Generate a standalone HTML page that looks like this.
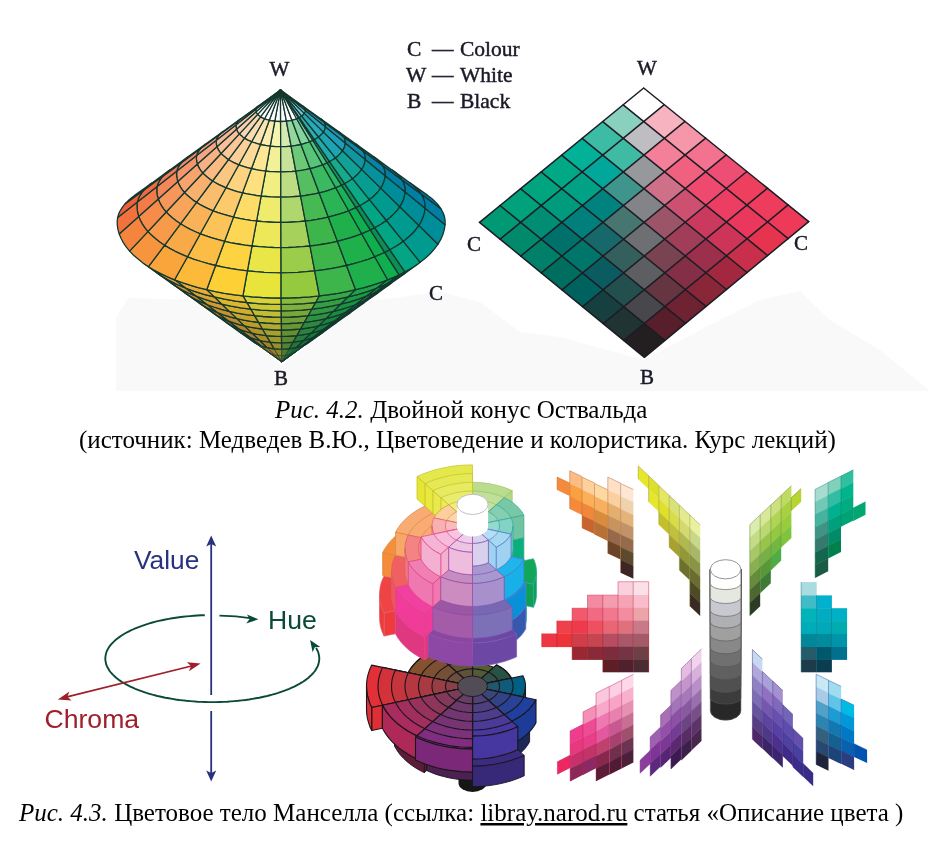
<!DOCTYPE html>
<html><head><meta charset="utf-8"><title>Цветовые системы</title>
<style>html,body{margin:0;padding:0;background:#fff}svg{display:block}</style></head>
<body>
<svg width="937" height="841" viewBox="0 0 937 841">
<rect width="937" height="841" fill="#ffffff"/>
<polygon points="116,391 116,318 128,298 200,300 240,330 282,366 320,335 360,302 440,292 480,302 520,332 560,337 644,360 700,330 760,300 800,291 830,320 880,350 930,391" fill="#f9f9f9"/>
<g id="cone" stroke="#14382e" stroke-width="1.3" stroke-linejoin="round">
<polygon points="281.7,355.6 280.4,355.6 279.2,355.5 277.9,355.4 281.8,362 281.8,362 281.8,362 281.8,362" fill="#897e24" stroke-width="0.6"/>
<polygon points="281.7,349.2 279.1,349.2 276.5,349 274,348.8 277.9,355.4 279.2,355.5 280.4,355.6 281.7,355.6" fill="#918626" stroke-width="0.6"/>
<polygon points="281.6,342.8 277.7,342.7 273.9,342.5 270.1,342.2 274,348.8 276.5,349 279.1,349.2 281.7,349.2" fill="#998f28"/>
<polygon points="281.5,336.4 276.4,336.3 271.3,336 266.2,335.6 270.1,342.2 273.9,342.5 277.7,342.7 281.6,342.8" fill="#a1972a"/>
<polygon points="281.5,330 275,329.9 268.6,329.5 262.3,329 266.2,335.6 271.3,336 276.4,336.3 281.5,336.4" fill="#a9a02c"/>
<polygon points="281.4,323.6 273.7,323.5 266,323 258.4,322.3 262.3,329 268.6,329.5 275,329.9 281.5,330" fill="#b2a92e"/>
<polygon points="281.3,317.2 272.3,317 263.4,316.5 254.5,315.7 258.4,322.3 266,323 273.7,323.5 281.4,323.6" fill="#bab230"/>
<polygon points="281.3,310.8 271,310.6 260.8,310.1 250.7,309.1 254.5,315.7 263.4,316.5 272.3,317 281.3,317.2" fill="#c3bc32"/>
<polygon points="281.2,304.4 269.6,304.2 258.1,303.6 246.8,302.5 250.7,309.1 260.8,310.1 271,310.6 281.3,310.8" fill="#cdc635"/>
<polygon points="281.1,298 268.3,297.8 255.5,297.1 242.9,295.9 246.8,302.5 258.1,303.6 269.6,304.2 281.2,304.4" fill="#d8d138"/>
<polygon points="277.9,355.4 276.7,355.2 275.5,355 274.3,354.8 281.8,362 281.8,362 281.8,362 281.8,362" fill="#927521" stroke-width="0.6"/>
<polygon points="274,348.8 271.5,348.5 269.1,348 266.8,347.5 274.3,354.8 275.5,355 276.7,355.2 277.9,355.4" fill="#9b7c22" stroke-width="0.6"/>
<polygon points="270.1,342.2 266.4,341.7 262.8,341.1 259.3,340.3 266.8,347.5 269.1,348 271.5,348.5 274,348.8" fill="#a48424"/>
<polygon points="266.2,335.6 261.3,334.9 256.4,334.1 251.8,333.1 259.3,340.3 262.8,341.1 266.4,341.7 270.1,342.2" fill="#ad8c26"/>
<polygon points="262.3,329 256.1,328.1 250.1,327.1 244.2,325.9 251.8,333.1 256.4,334.1 261.3,334.9 266.2,335.6" fill="#b69327"/>
<polygon points="258.4,322.3 251,321.4 243.8,320.1 236.7,318.6 244.2,325.9 250.1,327.1 256.1,328.1 262.3,329" fill="#bf9b29"/>
<polygon points="254.5,315.7 245.9,314.6 237.4,313.2 229.2,311.4 236.7,318.6 243.8,320.1 251,321.4 258.4,322.3" fill="#c9a42b"/>
<polygon points="250.7,309.1 240.7,307.8 231.1,306.2 221.7,304.2 229.2,311.4 237.4,313.2 245.9,314.6 254.5,315.7" fill="#d3ac2d"/>
<polygon points="246.8,302.5 235.6,301.1 224.7,299.2 214.2,296.9 221.7,304.2 231.1,306.2 240.7,307.8 250.7,309.1" fill="#ddb52f"/>
<polygon points="242.9,295.9 230.5,294.3 218.4,292.2 206.7,289.7 214.2,296.9 224.7,299.2 235.6,301.1 246.8,302.5" fill="#eabf31"/>
<polygon points="274.3,354.8 273.2,354.5 272.1,354.1 271.1,353.8 281.8,362 281.8,362 281.8,362 281.8,362" fill="#916a23" stroke-width="0.6"/>
<polygon points="266.8,347.5 264.5,347 262.4,346.3 260.4,345.6 271.1,353.8 272.1,354.1 273.2,354.5 274.3,354.8" fill="#9a7125" stroke-width="0.6"/>
<polygon points="259.3,340.3 255.9,339.4 252.7,338.4 249.7,337.3 260.4,345.6 262.4,346.3 264.5,347 266.8,347.5" fill="#a37727"/>
<polygon points="251.8,333.1 247.3,331.9 243,330.6 238.9,329.1 249.7,337.3 252.7,338.4 255.9,339.4 259.3,340.3" fill="#ac7e29"/>
<polygon points="244.2,325.9 238.6,324.4 233.3,322.7 228.2,320.9 238.9,329.1 243,330.6 247.3,331.9 251.8,333.1" fill="#b5852b"/>
<polygon points="236.7,318.6 230,316.9 223.6,314.9 217.5,312.7 228.2,320.9 233.3,322.7 238.6,324.4 244.2,325.9" fill="#bf8c2d"/>
<polygon points="229.2,311.4 221.4,309.4 213.9,307 206.8,304.5 217.5,312.7 223.6,314.9 230,316.9 236.7,318.6" fill="#c8932f"/>
<polygon points="221.7,304.2 212.7,301.8 204.2,299.2 196.1,296.2 206.8,304.5 213.9,307 221.4,309.4 229.2,311.4" fill="#d29a31"/>
<polygon points="214.2,296.9 204.1,294.3 194.5,291.3 185.4,288 196.1,296.2 204.2,299.2 212.7,301.8 221.7,304.2" fill="#dda233"/>
<polygon points="206.7,289.7 195.5,286.8 184.8,283.5 174.6,279.8 185.4,288 194.5,291.3 204.1,294.3 214.2,296.9" fill="#e9ab36"/>
<polygon points="271.1,353.8 270.1,353.4 269.3,352.9 268.5,352.5 281.8,362 281.8,362 281.8,362 281.8,362" fill="#906124" stroke-width="0.6"/>
<polygon points="260.4,345.6 258.5,344.7 256.7,343.9 255.1,342.9 268.5,352.5 269.3,352.9 270.1,353.4 271.1,353.8" fill="#996726" stroke-width="0.6"/>
<polygon points="249.7,337.3 246.8,336.1 244.2,334.8 241.8,333.4 255.1,342.9 256.7,343.9 258.5,344.7 260.4,345.6" fill="#a16d28"/>
<polygon points="238.9,329.1 235.2,327.5 231.7,325.7 228.5,323.9 241.8,333.4 244.2,334.8 246.8,336.1 249.7,337.3" fill="#aa722a"/>
<polygon points="228.2,320.9 223.5,318.9 219.1,316.7 215.1,314.3 228.5,323.9 231.7,325.7 235.2,327.5 238.9,329.1" fill="#b3782c"/>
<polygon points="217.5,312.7 211.8,310.2 206.6,307.6 201.8,304.8 215.1,314.3 219.1,316.7 223.5,318.9 228.2,320.9" fill="#bc7e2e"/>
<polygon points="206.8,304.5 200.2,301.6 194.1,298.6 188.5,295.3 201.8,304.8 206.6,307.6 211.8,310.2 217.5,312.7" fill="#c68430"/>
<polygon points="196.1,296.2 188.5,293 181.5,289.5 175.1,285.7 188.5,295.3 194.1,298.6 200.2,301.6 206.8,304.5" fill="#d08a32"/>
<polygon points="185.4,288 176.8,284.4 169,280.4 161.8,276.2 175.1,285.7 181.5,289.5 188.5,293 196.1,296.2" fill="#da9135"/>
<polygon points="174.6,279.8 165.2,275.7 156.4,271.4 148.5,266.7 161.8,276.2 169,280.4 176.8,284.4 185.4,288" fill="#e69938"/>
<polygon points="268.5,352.5 268.3,352.4 268.1,352.2 268,352.1 281.8,362 281.8,362 281.8,362 281.8,362" fill="#8f5a25" stroke-width="0.6"/>
<polygon points="255.1,342.9 254.8,342.7 254.5,342.5 254.1,342.3 268,352.1 268.1,352.2 268.3,352.4 268.5,352.5" fill="#985f27" stroke-width="0.6"/>
<polygon points="241.8,333.4 241.3,333.1 240.8,332.7 240.3,332.4 254.1,342.3 254.5,342.5 254.8,342.7 255.1,342.9" fill="#a06429"/>
<polygon points="228.5,323.9 227.8,323.4 227.1,323 226.4,322.5 240.3,332.4 240.8,332.7 241.3,333.1 241.8,333.4" fill="#a9692b"/>
<polygon points="215.1,314.3 214.3,313.8 213.4,313.2 212.6,312.6 226.4,322.5 227.1,323 227.8,323.4 228.5,323.9" fill="#b26e2d"/>
<polygon points="201.8,304.8 200.8,304.1 199.8,303.4 198.8,302.8 212.6,312.6 213.4,313.2 214.3,313.8 215.1,314.3" fill="#bb732f"/>
<polygon points="188.5,295.3 187.3,294.5 186.1,293.7 184.9,292.9 198.8,302.8 199.8,303.4 200.8,304.1 201.8,304.8" fill="#c47832"/>
<polygon points="175.1,285.7 173.8,284.8 172.4,283.9 171.1,283 184.9,292.9 186.1,293.7 187.3,294.5 188.5,295.3" fill="#ce7e34"/>
<polygon points="161.8,276.2 160.2,275.2 158.7,274.2 157.3,273.1 171.1,283 172.4,283.9 173.8,284.8 175.1,285.7" fill="#d88437"/>
<polygon points="148.5,266.7 146.7,265.5 145.1,264.4 143.4,263.3 157.3,273.1 158.7,274.2 160.2,275.2 161.8,276.2" fill="#e48a39"/>
<polygon points="285.6,355.4 284.3,355.5 283,355.6 281.7,355.6 281.8,362 281.8,362 281.8,362 281.8,362" fill="#49722e" stroke-width="0.6"/>
<polygon points="289.3,348.8 286.8,349 284.2,349.2 281.7,349.2 281.7,355.6 283,355.6 284.3,355.5 285.6,355.4" fill="#4f792f" stroke-width="0.6"/>
<polygon points="293.1,342.2 289.3,342.5 285.5,342.7 281.6,342.8 281.7,349.2 284.2,349.2 286.8,349 289.3,348.8" fill="#568130"/>
<polygon points="296.9,335.6 291.8,336 286.7,336.3 281.5,336.4 281.6,342.8 285.5,342.7 289.3,342.5 293.1,342.2" fill="#5c8832"/>
<polygon points="300.6,329 294.3,329.5 287.9,329.9 281.5,330 281.5,336.4 286.7,336.3 291.8,336 296.9,335.6" fill="#639033"/>
<polygon points="304.4,322.3 296.8,323 289.1,323.5 281.4,323.6 281.5,330 287.9,329.9 294.3,329.5 300.6,329" fill="#6a9734"/>
<polygon points="308.1,315.7 299.3,316.5 290.4,317 281.3,317.2 281.4,323.6 289.1,323.5 296.8,323 304.4,322.3" fill="#719f36"/>
<polygon points="311.9,309.1 301.8,310.1 291.6,310.6 281.3,310.8 281.3,317.2 290.4,317 299.3,316.5 308.1,315.7" fill="#78a738"/>
<polygon points="315.7,302.5 304.3,303.6 292.8,304.2 281.2,304.4 281.3,310.8 291.6,310.6 301.8,310.1 311.9,309.1" fill="#7fb039"/>
<polygon points="319.4,295.9 306.8,297.1 294,297.8 281.1,298 281.2,304.4 292.8,304.2 304.3,303.6 315.7,302.5" fill="#88ba3b"/>
<polygon points="289.2,354.8 288,355 286.8,355.2 285.6,355.4 281.8,362 281.8,362 281.8,362 281.8,362" fill="#216933" stroke-width="0.6"/>
<polygon points="296.6,347.5 294.2,348 291.8,348.5 289.3,348.8 285.6,355.4 286.8,355.2 288,355 289.2,354.8" fill="#236f35" stroke-width="0.6"/>
<polygon points="303.9,340.3 300.4,341.1 296.8,341.7 293.1,342.2 289.3,348.8 291.8,348.5 294.2,348 296.6,347.5" fill="#267537"/>
<polygon points="311.3,333.1 306.6,334.1 301.8,334.9 296.9,335.6 293.1,342.2 296.8,341.7 300.4,341.1 303.9,340.3" fill="#287c39"/>
<polygon points="318.7,325.9 312.9,327.1 306.8,328.1 300.6,329 296.9,335.6 301.8,334.9 306.6,334.1 311.3,333.1" fill="#2a823b"/>
<polygon points="326.1,318.6 319.1,320.1 311.8,321.4 304.4,322.3 300.6,329 306.8,328.1 312.9,327.1 318.7,325.9" fill="#2d893d"/>
<polygon points="333.5,311.4 325.3,313.2 316.8,314.6 308.1,315.7 304.4,322.3 311.8,321.4 319.1,320.1 326.1,318.6" fill="#2f903f"/>
<polygon points="340.8,304.2 331.5,306.2 321.8,307.8 311.9,309.1 308.1,315.7 316.8,314.6 325.3,313.2 333.5,311.4" fill="#329741"/>
<polygon points="348.2,296.9 337.7,299.2 326.8,301.1 315.7,302.5 311.9,309.1 321.8,307.8 331.5,306.2 340.8,304.2" fill="#359e43"/>
<polygon points="355.6,289.7 343.9,292.2 331.8,294.3 319.4,295.9 315.7,302.5 326.8,301.1 337.7,299.2 348.2,296.9" fill="#38a746"/>
<polygon points="292.4,353.8 291.4,354.1 290.3,354.5 289.2,354.8 281.8,362 281.8,362 281.8,362 281.8,362" fill="#136634" stroke-width="0.6"/>
<polygon points="303,345.6 300.9,346.3 298.8,347 296.6,347.5 289.2,354.8 290.3,354.5 291.4,354.1 292.4,353.8" fill="#146c36" stroke-width="0.6"/>
<polygon points="313.6,337.3 310.5,338.4 307.3,339.4 303.9,340.3 296.6,347.5 298.8,347 300.9,346.3 303,345.6" fill="#157338"/>
<polygon points="324.1,329.1 320.1,330.6 315.8,331.9 311.3,333.1 303.9,340.3 307.3,339.4 310.5,338.4 313.6,337.3" fill="#16793a"/>
<polygon points="334.7,320.9 329.7,322.7 324.3,324.4 318.7,325.9 311.3,333.1 315.8,331.9 320.1,330.6 324.1,329.1" fill="#177f3c"/>
<polygon points="345.3,312.7 339.2,314.9 332.8,316.9 326.1,318.6 318.7,325.9 324.3,324.4 329.7,322.7 334.7,320.9" fill="#18863e"/>
<polygon points="355.9,304.5 348.8,307 341.3,309.4 333.5,311.4 326.1,318.6 332.8,316.9 339.2,314.9 345.3,312.7" fill="#198c40"/>
<polygon points="366.5,296.2 358.4,299.2 349.8,301.8 340.8,304.2 333.5,311.4 341.3,309.4 348.8,307 355.9,304.5" fill="#1a9342"/>
<polygon points="377.1,288 368,291.3 358.3,294.3 348.2,296.9 340.8,304.2 349.8,301.8 358.4,299.2 366.5,296.2" fill="#1c9a45"/>
<polygon points="387.7,279.8 377.5,283.5 366.8,286.8 355.6,289.7 348.2,296.9 358.3,294.3 368,291.3 377.1,288" fill="#1da348"/>
<polygon points="293.5,353.3 293.2,353.5 292.8,353.6 292.4,353.8 281.8,362 281.8,362 281.8,362 281.8,362" fill="#0c6535" stroke-width="0.6"/>
<polygon points="305.3,344.6 304.5,344.9 303.8,345.2 303,345.6 292.4,353.8 292.8,353.6 293.2,353.5 293.5,353.3" fill="#0c6b37" stroke-width="0.6"/>
<polygon points="317,335.8 315.9,336.4 314.7,336.9 313.6,337.3 303,345.6 303.8,345.2 304.5,344.9 305.3,344.6" fill="#0d7139"/>
<polygon points="328.7,327.1 327.2,327.8 325.7,328.5 324.1,329.1 313.6,337.3 314.7,336.9 315.9,336.4 317,335.8" fill="#0d783b"/>
<polygon points="340.5,318.4 338.6,319.3 336.7,320.1 334.7,320.9 324.1,329.1 325.7,328.5 327.2,327.8 328.7,327.1" fill="#0d7e3d"/>
<polygon points="352.2,309.7 350,310.7 347.7,311.7 345.3,312.7 334.7,320.9 336.7,320.1 338.6,319.3 340.5,318.4" fill="#0d843f"/>
<polygon points="363.9,301 361.3,302.2 358.7,303.3 355.9,304.5 345.3,312.7 347.7,311.7 350,310.7 352.2,309.7" fill="#0e8b42"/>
<polygon points="375.7,292.2 372.7,293.6 369.6,294.9 366.5,296.2 355.9,304.5 358.7,303.3 361.3,302.2 363.9,301" fill="#0e9144"/>
<polygon points="387.4,283.5 384.1,285.1 380.6,286.6 377.1,288 366.5,296.2 369.6,294.9 372.7,293.6 375.7,292.2" fill="#0e9947"/>
<polygon points="399.1,274.8 395.4,276.5 391.6,278.2 387.7,279.8 377.1,288 380.6,286.6 384.1,285.1 387.4,283.5" fill="#0ea149"/>
<polygon points="294.1,353 293.9,353.1 293.7,353.2 293.5,353.3 281.8,362 281.8,362 281.8,362 281.8,362" fill="#0a5738" stroke-width="0.6"/>
<polygon points="306.4,344 306,344.2 305.7,344.4 305.3,344.6 293.5,353.3 293.7,353.2 293.9,353.1 294.1,353" fill="#0a5c3a" stroke-width="0.6"/>
<polygon points="318.7,335 318.2,335.3 317.6,335.5 317,335.8 305.3,344.6 305.7,344.4 306,344.2 306.4,344" fill="#0b613d"/>
<polygon points="331,325.9 330.3,326.3 329.5,326.7 328.7,327.1 317,335.8 317.6,335.5 318.2,335.3 318.7,335" fill="#0b653f"/>
<polygon points="343.4,316.9 342.4,317.4 341.4,317.9 340.5,318.4 328.7,327.1 329.5,326.7 330.3,326.3 331,325.9" fill="#0b6a42"/>
<polygon points="355.7,307.9 354.5,308.5 353.4,309.1 352.2,309.7 340.5,318.4 341.4,317.9 342.4,317.4 343.4,316.9" fill="#0b6f44"/>
<polygon points="368,298.9 366.7,299.6 365.3,300.3 363.9,301 352.2,309.7 353.4,309.1 354.5,308.5 355.7,307.9" fill="#0b7447"/>
<polygon points="380.3,289.9 378.8,290.7 377.2,291.5 375.7,292.2 363.9,301 365.3,300.3 366.7,299.6 368,298.9" fill="#0b794a"/>
<polygon points="392.6,280.9 390.9,281.8 389.2,282.6 387.4,283.5 375.7,292.2 377.2,291.5 378.8,290.7 380.3,289.9" fill="#0b7f4c"/>
<polygon points="404.9,271.9 403,272.9 401.1,273.8 399.1,274.8 387.4,283.5 389.2,282.6 390.9,281.8 392.6,280.9" fill="#0b8550"/>
<polygon points="295.5,352.1 295.1,352.4 294.6,352.7 294.1,353 281.8,362 281.8,362 281.8,362 281.8,362" fill="#07614d" stroke-width="0.6"/>
<polygon points="309.2,342.3 308.3,342.8 307.4,343.4 306.4,344 294.1,353 294.6,352.7 295.1,352.4 295.5,352.1" fill="#076752" stroke-width="0.6"/>
<polygon points="322.9,332.4 321.6,333.3 320.2,334.1 318.7,335 306.4,344 307.4,343.4 308.3,342.8 309.2,342.3" fill="#076d56"/>
<polygon points="336.6,322.5 334.9,323.7 333,324.8 331,325.9 318.7,335 320.2,334.1 321.6,333.3 322.9,332.4" fill="#06725b"/>
<polygon points="350.3,312.6 348.2,314.1 345.8,315.5 343.4,316.9 331,325.9 333,324.8 334.9,323.7 336.6,322.5" fill="#06785f"/>
<polygon points="364,302.8 361.4,304.5 358.6,306.3 355.7,307.9 343.4,316.9 345.8,315.5 348.2,314.1 350.3,312.6" fill="#067e64"/>
<polygon points="377.8,292.9 374.7,295 371.4,297 368,298.9 355.7,307.9 358.6,306.3 361.4,304.5 364,302.8" fill="#068469"/>
<polygon points="391.5,283 388,285.4 384.3,287.7 380.3,289.9 368,298.9 371.4,297 374.7,295 377.8,292.9" fill="#058a6e"/>
<polygon points="405.2,273.1 401.3,275.8 397.1,278.4 392.6,280.9 380.3,289.9 384.3,287.7 388,285.4 391.5,283" fill="#059174"/>
<polygon points="418.9,263.3 414.5,266.2 409.9,269.1 404.9,271.9 392.6,280.9 397.1,278.4 401.3,275.8 405.2,273.1" fill="#05997a"/>
<polygon points="280.6,121.5 279.1,121.5 277.7,121.4 276.2,121.3 274.8,121.2 280.5,90 280.5,90 280.5,90 280.5,90 280.5,90" fill="#ffffff"/>
<polygon points="280.7,146.7 278,146.7 275.4,146.6 272.8,146.4 270.2,146.2 274.8,121.2 276.2,121.3 277.7,121.4 279.1,121.5 280.6,121.5" fill="#f6f4b1"/>
<polygon points="280.8,171.9 277,171.9 273.2,171.7 269.4,171.5 265.7,171.1 270.2,146.2 272.8,146.4 275.4,146.6 278,146.7 280.7,146.7" fill="#f3f198"/>
<polygon points="280.8,197.2 275.9,197.1 270.9,196.9 266,196.5 261.1,196.1 265.7,171.1 269.4,171.5 273.2,171.7 277,171.9 280.8,171.9" fill="#f1ee82"/>
<polygon points="280.9,222.4 274.8,222.3 268.6,222 262.6,221.6 256.6,221 261.1,196.1 266,196.5 270.9,196.9 275.9,197.1 280.8,197.2" fill="#eeeb6d"/>
<polygon points="281,247.6 273.7,247.5 266.4,247.2 259.2,246.7 252,246 256.6,221 262.6,221.6 268.6,222 274.8,222.3 280.9,222.4" fill="#ece859"/>
<polygon points="281.1,272.8 272.6,272.7 264.1,272.3 255.7,271.7 247.4,270.9 252,246 259.2,246.7 266.4,247.2 273.7,247.5 281,247.6" fill="#eae648"/>
<polygon points="281.1,298 271.5,297.9 261.9,297.5 252.3,296.8 242.9,295.9 247.4,270.9 255.7,271.7 264.1,272.3 272.6,272.7 281.1,272.8" fill="#e9e43c"/>
<polygon points="274.8,121.2 273.4,121 272,120.8 270.6,120.6 269.3,120.3 280.5,90 280.5,90 280.5,90 280.5,90 280.5,90" fill="#ffffff"/>
<polygon points="270.2,146.2 267.7,145.8 265.2,145.4 262.8,145 260.4,144.5 269.3,120.3 270.6,120.6 272,120.8 273.4,121 274.8,121.2" fill="#feecae"/>
<polygon points="265.7,171.1 262,170.7 258.4,170.1 254.9,169.4 251.4,168.7 260.4,144.5 262.8,145 265.2,145.4 267.7,145.8 270.2,146.2" fill="#fee694"/>
<polygon points="261.1,196.1 256.3,195.5 251.6,194.7 247,193.9 242.5,192.9 251.4,168.7 254.9,169.4 258.4,170.1 262,170.7 265.7,171.1" fill="#fee17e"/>
<polygon points="256.6,221 250.6,220.3 244.8,219.4 239.1,218.3 233.5,217.1 242.5,192.9 247,193.9 251.6,194.7 256.3,195.5 261.1,196.1" fill="#fedc68"/>
<polygon points="252,246 244.9,245.1 238,244 231.2,242.8 224.6,241.3 233.5,217.1 239.1,218.3 244.8,219.4 250.6,220.3 256.6,221" fill="#fdd753"/>
<polygon points="247.4,270.9 239.2,269.9 231.2,268.7 223.3,267.2 215.6,265.5 224.6,241.3 231.2,242.8 238,244 244.9,245.1 252,246" fill="#fdd341"/>
<polygon points="242.9,295.9 233.5,294.7 224.4,293.3 215.4,291.6 206.7,289.7 215.6,265.5 223.3,267.2 231.2,268.7 239.2,269.9 247.4,270.9" fill="#fdd035"/>
<polygon points="269.3,120.3 268,119.9 266.8,119.6 265.6,119.2 264.5,118.8 280.5,90 280.5,90 280.5,90 280.5,90 280.5,90" fill="#ffffff"/>
<polygon points="260.4,144.5 258.1,143.9 255.8,143.2 253.7,142.5 251.6,141.8 264.5,118.8 265.6,119.2 266.8,119.6 268,119.9 269.3,120.3" fill="#fee3b0"/>
<polygon points="251.4,168.7 248.1,167.8 244.9,166.9 241.8,165.9 238.8,164.8 251.6,141.8 253.7,142.5 255.8,143.2 258.1,143.9 260.4,144.5" fill="#fdda97"/>
<polygon points="242.5,192.9 238.1,191.8 233.9,190.6 229.8,189.2 226,187.8 238.8,164.8 241.8,165.9 244.9,166.9 248.1,167.8 251.4,168.7" fill="#fdd281"/>
<polygon points="233.5,217.1 228.1,215.7 222.9,214.2 217.9,212.6 213.1,210.8 226,187.8 229.8,189.2 233.9,190.6 238.1,191.8 242.5,192.9" fill="#fdca6b"/>
<polygon points="224.6,241.3 218.2,239.7 212,237.9 206,235.9 200.3,233.8 213.1,210.8 217.9,212.6 222.9,214.2 228.1,215.7 233.5,217.1" fill="#fcc458"/>
<polygon points="215.6,265.5 208.2,263.6 201,261.5 194.1,259.3 187.5,256.8 200.3,233.8 206,235.9 212,237.9 218.2,239.7 224.6,241.3" fill="#fcbd46"/>
<polygon points="206.7,289.7 198.2,287.6 190,285.2 182.2,282.6 174.6,279.8 187.5,256.8 194.1,259.3 201,261.5 208.2,263.6 215.6,265.5" fill="#fcb93a"/>
<polygon points="264.5,118.8 263.4,118.3 262.4,117.8 261.4,117.3 260.5,116.8 280.5,90 280.5,90 280.5,90 280.5,90 280.5,90" fill="#ffffff"/>
<polygon points="251.6,141.8 249.7,140.9 247.8,140.1 246.1,139.1 244.5,138.2 260.5,116.8 261.4,117.3 262.4,117.8 263.4,118.3 264.5,118.8" fill="#fddbb1"/>
<polygon points="238.8,164.8 236,163.6 233.3,162.3 230.8,161 228.5,159.6 244.5,138.2 246.1,139.1 247.8,140.1 249.7,140.9 251.6,141.8" fill="#fccf98"/>
<polygon points="226,187.8 222.3,186.2 218.8,184.6 215.5,182.8 212.5,181 228.5,159.6 230.8,161 233.3,162.3 236,163.6 238.8,164.8" fill="#fbc582"/>
<polygon points="213.1,210.8 208.6,208.9 204.3,206.8 200.2,204.7 196.5,202.4 212.5,181 215.5,182.8 218.8,184.6 222.3,186.2 226,187.8" fill="#fabc6d"/>
<polygon points="200.3,233.8 194.9,231.5 189.8,229.1 185,226.5 180.5,223.8 196.5,202.4 200.2,204.7 204.3,206.8 208.6,208.9 213.1,210.8" fill="#fab259"/>
<polygon points="187.5,256.8 181.2,254.1 175.2,251.3 169.7,248.4 164.5,245.3 180.5,223.8 185,226.5 189.8,229.1 194.9,231.5 200.3,233.8" fill="#f9aa48"/>
<polygon points="174.6,279.8 167.5,276.8 160.7,273.6 154.4,270.2 148.5,266.7 164.5,245.3 169.7,248.4 175.2,251.3 181.2,254.1 187.5,256.8" fill="#f9a53c"/>
<polygon points="260.5,116.8 259.7,116.2 258.9,115.6 258.2,115 257.6,114.4 280.5,90 280.5,90 280.5,90 280.5,90 280.5,90" fill="#ffffff"/>
<polygon points="244.5,138.2 243,137.2 241.7,136.1 240.4,135 239.4,133.9 257.6,114.4 258.2,115 258.9,115.6 259.7,116.2 260.5,116.8" fill="#fcd5b2"/>
<polygon points="228.5,159.6 226.3,158.1 224.4,156.6 222.6,155.1 221.1,153.5 239.4,133.9 240.4,135 241.7,136.1 243,137.2 244.5,138.2" fill="#fbc799"/>
<polygon points="212.5,181 209.7,179.1 207.1,177.1 204.8,175.1 202.8,173 221.1,153.5 222.6,155.1 224.4,156.6 226.3,158.1 228.5,159.6" fill="#fabb83"/>
<polygon points="196.5,202.4 193,200.1 189.9,197.6 187,195.1 184.5,192.5 202.8,173 204.8,175.1 207.1,177.1 209.7,179.1 212.5,181" fill="#f9b06e"/>
<polygon points="180.5,223.8 176.4,221 172.6,218.1 169.2,215.1 166.2,212 184.5,192.5 187,195.1 189.9,197.6 193,200.1 196.5,202.4" fill="#f8a55b"/>
<polygon points="164.5,245.3 159.7,242 155.3,238.6 151.4,235.1 147.9,231.6 166.2,212 169.2,215.1 172.6,218.1 176.4,221 180.5,223.8" fill="#f79b4a"/>
<polygon points="148.5,266.7 143,263 138.1,259.1 133.6,255.2 129.6,251.1 147.9,231.6 151.4,235.1 155.3,238.6 159.7,242 164.5,245.3" fill="#f7953e"/>
<polygon points="257.6,114.4 257.1,113.8 256.7,113.1 256.3,112.5 256.1,111.8 280.5,90 280.5,90 280.5,90 280.5,90 280.5,90" fill="#ffffff"/>
<polygon points="239.4,133.9 238.4,132.8 237.6,131.6 237,130.4 236.5,129.2 256.1,111.8 256.3,112.5 256.7,113.1 257.1,113.8 257.6,114.4" fill="#fbceb2"/>
<polygon points="221.1,153.5 219.7,151.8 218.6,150.1 217.7,148.4 216.9,146.7 236.5,129.2 237,130.4 237.6,131.6 238.4,132.8 239.4,133.9" fill="#fabe99"/>
<polygon points="202.8,173 201,170.8 199.5,168.6 198.3,166.4 197.4,164.1 216.9,146.7 217.7,148.4 218.6,150.1 219.7,151.8 221.1,153.5" fill="#f9b083"/>
<polygon points="184.5,192.5 182.3,189.8 180.5,187.1 179,184.4 177.8,181.6 197.4,164.1 198.3,166.4 199.5,168.6 201,170.8 202.8,173" fill="#f8a36e"/>
<polygon points="166.2,212 163.6,208.9 161.4,205.6 159.6,202.3 158.3,199 177.8,181.6 179,184.4 180.5,187.1 182.3,189.8 184.5,192.5" fill="#f6965b"/>
<polygon points="147.9,231.6 144.9,227.9 142.4,224.1 140.3,220.3 138.7,216.4 158.3,199 159.6,202.3 161.4,205.6 163.6,208.9 166.2,212" fill="#f68b4a"/>
<polygon points="129.6,251.1 126.2,246.9 123.3,242.6 121,238.3 119.2,233.9 138.7,216.4 140.3,220.3 142.4,224.1 144.9,227.9 147.9,231.6" fill="#f5843e"/>
<polygon points="256.1,111.8 255.9,111.1 255.8,110.5 255.8,109.8 255.8,109.3 280.5,90 280.5,90 280.5,90 280.5,90 280.5,90" fill="#ffffff"/>
<polygon points="236.5,129.2 236.2,128 236,126.8 236,125.7 236.1,124.7 255.8,109.3 255.8,109.8 255.8,110.5 255.9,111.1 256.1,111.8" fill="#fac6b1"/>
<polygon points="216.9,146.7 216.5,144.9 216.2,143.2 216.2,141.5 216.3,140.2 236.1,124.7 236,125.7 236,126.8 236.2,128 236.5,129.2" fill="#f9b498"/>
<polygon points="197.4,164.1 196.8,161.8 196.4,159.5 196.4,157.4 196.6,155.6 216.3,140.2 216.2,141.5 216.2,143.2 216.5,144.9 216.9,146.7" fill="#f7a482"/>
<polygon points="177.8,181.6 177.1,178.7 176.6,175.9 176.6,173.3 176.9,171 196.6,155.6 196.4,157.4 196.4,159.5 196.8,161.8 197.4,164.1" fill="#f6946d"/>
<polygon points="158.3,199 157.3,195.6 156.8,192.3 156.8,189.1 157.1,186.5 176.9,171 176.6,173.3 176.6,175.9 177.1,178.7 177.8,181.6" fill="#f58659"/>
<polygon points="138.7,216.4 137.6,212.5 137.1,208.6 137,205 137.4,201.9 157.1,186.5 156.8,189.1 156.8,192.3 157.3,195.6 158.3,199" fill="#f47a48"/>
<polygon points="119.2,233.9 117.9,229.4 117.3,225 117.2,220.8 117.7,217.4 137.4,201.9 137,205 137.1,208.6 137.6,212.5 138.7,216.4" fill="#f3713c"/>
<polygon points="255.8,109.3 256,108.8 256.2,108.3 256.6,107.7 257,107.2 280.5,90 280.5,90 280.5,90 280.5,90 280.5,90" fill="#ffffff"/>
<polygon points="236.1,124.7 236.4,123.8 236.8,122.9 237.4,121.9 238.1,121 257,107.2 256.6,107.7 256.2,108.3 256,108.8 255.8,109.3" fill="#f9bfb0"/>
<polygon points="216.3,140.2 216.8,138.8 217.4,137.5 218.2,136.1 219.3,134.8 238.1,121 237.4,121.9 236.8,122.9 236.4,123.8 236.1,124.7" fill="#f8aa97"/>
<polygon points="196.6,155.6 197.1,153.8 198,152.1 199.1,150.3 200.5,148.6 219.3,134.8 218.2,136.1 217.4,137.5 216.8,138.8 216.3,140.2" fill="#f69981"/>
<polygon points="176.9,171 177.5,168.8 178.6,166.7 179.9,164.5 181.7,162.4 200.5,148.6 199.1,150.3 198,152.1 197.1,153.8 196.6,155.6" fill="#f4876b"/>
<polygon points="157.1,186.5 157.9,183.9 159.1,181.3 160.8,178.7 162.8,176.1 181.7,162.4 179.9,164.5 178.6,166.7 177.5,168.8 176.9,171" fill="#f37758"/>
<polygon points="137.4,201.9 138.3,198.9 139.7,195.9 141.6,192.9 144,189.9 162.8,176.1 160.8,178.7 159.1,181.3 157.9,183.9 157.1,186.5" fill="#f26946"/>
<polygon points="117.7,217.4 118.7,213.9 120.3,210.5 122.5,207.1 125.2,203.7 144,189.9 141.6,192.9 139.7,195.9 138.3,198.9 137.4,201.9" fill="#f15f3a"/>
<polygon points="257,107.2 257.3,106.9 257.6,106.6 258,106.3 258.4,106 280.5,90 280.5,90 280.5,90 280.5,90 280.5,90" fill="#ffffff"/>
<polygon points="238.1,121 238.7,120.4 239.3,119.9 240,119.3 240.7,118.8 258.4,106 258,106.3 257.6,106.6 257.3,106.9 257,107.2" fill="#f9b9af"/>
<polygon points="219.3,134.8 220.1,134 221,133.1 222,132.3 223,131.5 240.7,118.8 240,119.3 239.3,119.9 238.7,120.4 238.1,121" fill="#f7a296"/>
<polygon points="200.5,148.6 201.5,147.5 202.7,146.4 203.9,145.4 205.3,144.3 223,131.5 222,132.3 221,133.1 220.1,134 219.3,134.8" fill="#f58e80"/>
<polygon points="181.7,162.4 182.9,161 184.4,159.7 185.9,158.4 187.6,157.1 205.3,144.3 203.9,145.4 202.7,146.4 201.5,147.5 200.5,148.6" fill="#f37b6a"/>
<polygon points="162.8,176.1 164.4,174.5 166.1,173 167.9,171.4 169.9,169.9 187.6,157.1 185.9,158.4 184.4,159.7 182.9,161 181.7,162.4" fill="#f16956"/>
<polygon points="144,189.9 145.8,188.1 147.8,186.2 149.9,184.4 152.3,182.7 169.9,169.9 167.9,171.4 166.1,173 164.4,174.5 162.8,176.1" fill="#f05a44"/>
<polygon points="125.2,203.7 127.2,201.6 129.4,199.5 131.9,197.5 134.6,195.4 152.3,182.7 149.9,184.4 147.8,186.2 145.8,188.1 144,189.9" fill="#ef4f38"/>
<polygon points="280.6,121.5 282.1,121.5 283.5,121.4 285,121.3 286.4,121.2 280.5,90 280.5,90 280.5,90 280.5,90 280.5,90" fill="#ffffff"/>
<polygon points="280.7,146.7 283.3,146.7 285.9,146.6 288.5,146.4 291.1,146.2 286.4,121.2 285,121.3 283.5,121.4 282.1,121.5 280.6,121.5" fill="#d5eab2"/>
<polygon points="280.8,171.9 284.6,171.9 288.3,171.7 292.1,171.5 295.8,171.1 291.1,146.2 288.5,146.4 285.9,146.6 283.3,146.7 280.7,146.7" fill="#c7e399"/>
<polygon points="280.8,197.2 285.8,197.1 290.8,196.9 295.7,196.5 300.6,196.1 295.8,171.1 292.1,171.5 288.3,171.7 284.6,171.9 280.8,171.9" fill="#bcdd83"/>
<polygon points="280.9,222.4 287.1,222.3 293.2,222 299.3,221.6 305.3,221 300.6,196.1 295.7,196.5 290.8,196.9 285.8,197.1 280.8,197.2" fill="#b0d76e"/>
<polygon points="281,247.6 288.3,247.5 295.6,247.2 302.8,246.7 310,246 305.3,221 299.3,221.6 293.2,222 287.1,222.3 280.9,222.4" fill="#a6d25b"/>
<polygon points="281.1,272.8 289.6,272.7 298,272.3 306.4,271.7 314.7,270.9 310,246 302.8,246.7 295.6,247.2 288.3,247.5 281,247.6" fill="#9ccd4a"/>
<polygon points="281.1,298 290.8,297.9 300.4,297.5 310,296.8 319.4,295.9 314.7,270.9 306.4,271.7 298,272.3 289.6,272.7 281.1,272.8" fill="#96ca3e"/>
<polygon points="286.4,121.2 287.8,121 289.2,120.8 290.6,120.6 291.9,120.3 280.5,90 280.5,90 280.5,90 280.5,90 280.5,90" fill="#ffffff"/>
<polygon points="291.1,146.2 293.7,145.8 296.2,145.4 298.6,145 301,144.5 291.9,120.3 290.6,120.6 289.2,120.8 287.8,121 286.4,121.2" fill="#94d69b"/>
<polygon points="295.8,171.1 299.5,170.7 303.1,170.1 306.6,169.4 310.1,168.7 301,144.5 298.6,145 296.2,145.4 293.7,145.8 291.1,146.2" fill="#6ec877"/>
<polygon points="300.6,196.1 305.4,195.5 310.1,194.7 314.7,193.9 319.2,192.9 310.1,168.7 306.6,169.4 303.1,170.1 299.5,170.7 295.8,171.1" fill="#54be60"/>
<polygon points="305.3,221 311.2,220.3 317,219.4 322.7,218.3 328.3,217.1 319.2,192.9 314.7,193.9 310.1,194.7 305.4,195.5 300.6,196.1" fill="#47b953"/>
<polygon points="310,246 317.1,245.1 324,244 330.8,242.8 337.4,241.3 328.3,217.1 322.7,218.3 317,219.4 311.2,220.3 305.3,221" fill="#3db54a"/>
<polygon points="314.7,270.9 322.9,269.9 331,268.7 338.8,267.2 346.5,265.5 337.4,241.3 330.8,242.8 324,244 317.1,245.1 310,246" fill="#3db54a"/>
<polygon points="319.4,295.9 328.8,294.7 337.9,293.3 346.9,291.6 355.6,289.7 346.5,265.5 338.8,267.2 331,268.7 322.9,269.9 314.7,270.9" fill="#3db54a"/>
<polygon points="291.9,120.3 293.2,119.9 294.4,119.6 295.6,119.2 296.7,118.8 280.5,90 280.5,90 280.5,90 280.5,90 280.5,90" fill="#ffffff"/>
<polygon points="301,144.5 303.3,143.9 305.5,143.2 307.7,142.5 309.7,141.8 296.7,118.8 295.6,119.2 294.4,119.6 293.2,119.9 291.9,120.3" fill="#84d49d"/>
<polygon points="310.1,168.7 313.4,167.8 316.6,166.9 319.7,165.9 322.7,164.8 309.7,141.8 307.7,142.5 305.5,143.2 303.3,143.9 301,144.5" fill="#57c479"/>
<polygon points="319.2,192.9 323.6,191.8 327.8,190.6 331.8,189.2 335.7,187.8 322.7,164.8 319.7,165.9 316.6,166.9 313.4,167.8 310.1,168.7" fill="#3ab961"/>
<polygon points="328.3,217.1 333.7,215.7 338.9,214.2 343.9,212.6 348.7,210.8 335.7,187.8 331.8,189.2 327.8,190.6 323.6,191.8 319.2,192.9" fill="#2ab455"/>
<polygon points="337.4,241.3 343.8,239.7 350,237.9 356,235.9 361.7,233.8 348.7,210.8 343.9,212.6 338.9,214.2 333.7,215.7 328.3,217.1" fill="#1fb04c"/>
<polygon points="346.5,265.5 353.9,263.6 361.1,261.5 368.1,259.3 374.7,256.8 361.7,233.8 356,235.9 350,237.9 343.8,239.7 337.4,241.3" fill="#1fb04c"/>
<polygon points="355.6,289.7 364.1,287.6 372.3,285.2 380.1,282.6 387.7,279.8 374.7,256.8 368.1,259.3 361.1,261.5 353.9,263.6 346.5,265.5" fill="#1fb04c"/>
<polygon points="296.7,118.8 297.2,118.6 297.6,118.4 298.1,118.2 298.5,118 280.5,90 280.5,90 280.5,90 280.5,90 280.5,90" fill="#ffffff"/>
<polygon points="309.7,141.8 310.5,141.4 311.3,141.1 312.1,140.8 312.9,140.4 298.5,118 298.1,118.2 297.6,118.4 297.2,118.6 296.7,118.8" fill="#7bd29e"/>
<polygon points="322.7,164.8 323.9,164.3 325,163.8 326.1,163.3 327.2,162.8 312.9,140.4 312.1,140.8 311.3,141.1 310.5,141.4 309.7,141.8" fill="#4bc27a"/>
<polygon points="335.7,187.8 337.2,187.2 338.7,186.5 340.2,185.9 341.6,185.2 327.2,162.8 326.1,163.3 325,163.8 323.9,164.3 322.7,164.8" fill="#2cb863"/>
<polygon points="348.7,210.8 350.6,210 352.4,209.2 354.2,208.4 356,207.6 341.6,185.2 340.2,185.9 338.7,186.5 337.2,187.2 335.7,187.8" fill="#1bb257"/>
<polygon points="361.7,233.8 363.9,232.9 366.1,231.9 368.3,231 370.4,230 356,207.6 354.2,208.4 352.4,209.2 350.6,210 348.7,210.8" fill="#0fae4e"/>
<polygon points="374.7,256.8 377.3,255.7 379.8,254.6 382.3,253.5 384.7,252.4 370.4,230 368.3,231 366.1,231.9 363.9,232.9 361.7,233.8" fill="#0fae4e"/>
<polygon points="387.7,279.8 390.6,278.6 393.5,277.4 396.4,276.1 399.1,274.8 384.7,252.4 382.3,253.5 379.8,254.6 377.3,255.7 374.7,256.8" fill="#0fae4e"/>
<polygon points="298.5,118 298.7,117.9 298.9,117.8 299.1,117.7 299.4,117.6 280.5,90 280.5,90 280.5,90 280.5,90 280.5,90" fill="#aad8c4"/>
<polygon points="312.9,140.4 313.3,140.2 313.7,140 314,139.8 314.4,139.6 299.4,117.6 299.1,117.7 298.9,117.8 298.7,117.9 298.5,118" fill="#3ca577"/>
<polygon points="327.2,162.8 327.8,162.5 328.4,162.2 329,161.9 329.5,161.6 314.4,139.6 314,139.8 313.7,140 313.3,140.2 312.9,140.4" fill="#289c69"/>
<polygon points="341.6,185.2 342.4,184.8 343.1,184.5 343.9,184.1 344.6,183.7 329.5,161.6 329,161.9 328.4,162.2 327.8,162.5 327.2,162.8" fill="#1c9761"/>
<polygon points="356,207.6 356.9,207.1 357.9,206.7 358.8,206.2 359.7,205.7 344.6,183.7 343.9,184.1 343.1,184.5 342.4,184.8 341.6,185.2" fill="#12925a"/>
<polygon points="370.4,230 371.5,229.4 372.6,228.9 373.7,228.3 374.8,227.8 359.7,205.7 358.8,206.2 357.9,206.7 356.9,207.1 356,207.6" fill="#0b8f55"/>
<polygon points="384.7,252.4 386,251.8 387.3,251.1 388.6,250.5 389.8,249.8 374.8,227.8 373.7,228.3 372.6,228.9 371.5,229.4 370.4,230" fill="#0b8f55"/>
<polygon points="399.1,274.8 400.6,274.1 402.1,273.3 403.5,272.6 404.9,271.9 389.8,249.8 388.6,250.5 387.3,251.1 386,251.8 384.7,252.4" fill="#0b8f55"/>
<polygon points="299.4,117.6 300,117.2 300.6,116.8 301.1,116.5 301.7,116.1 280.5,90 280.5,90 280.5,90 280.5,90 280.5,90" fill="#76cad7"/>
<polygon points="314.4,139.6 315.6,139 316.6,138.3 317.6,137.7 318.6,137 301.7,116.1 301.1,116.5 300.6,116.8 300,117.2 299.4,117.6" fill="#2cafb3"/>
<polygon points="329.5,161.6 331.1,160.7 332.7,159.8 334.2,158.9 335.5,157.9 318.6,137 317.6,137.7 316.6,138.3 315.6,139 314.4,139.6" fill="#1faaad"/>
<polygon points="344.6,183.7 346.7,182.5 348.7,181.3 350.7,180 352.5,178.7 335.5,157.9 334.2,158.9 332.7,159.8 331.1,160.7 329.5,161.6" fill="#16ab8d"/>
<polygon points="359.7,205.7 362.3,204.3 364.8,202.8 367.2,201.2 369.4,199.6 352.5,178.7 350.7,180 348.7,181.3 346.7,182.5 344.6,183.7" fill="#0ca888"/>
<polygon points="374.8,227.8 377.9,226 380.9,224.2 383.7,222.4 386.4,220.5 369.4,199.6 367.2,201.2 364.8,202.8 362.3,204.3 359.7,205.7" fill="#04a584"/>
<polygon points="389.8,249.8 393.5,247.8 396.9,245.7 400.2,243.6 403.3,241.4 386.4,220.5 383.7,222.4 380.9,224.2 377.9,226 374.8,227.8" fill="#04a584"/>
<polygon points="404.9,271.9 409.1,269.6 413,267.2 416.7,264.8 420.2,262.3 403.3,241.4 400.2,243.6 396.9,245.7 393.5,247.8 389.8,249.8" fill="#04a584"/>
<polygon points="301.7,116.1 302.5,115.5 303.2,114.8 303.8,114.1 304.4,113.4 280.5,90 280.5,90 280.5,90 280.5,90 280.5,90" fill="#75c7d9"/>
<polygon points="318.6,137 320.1,135.8 321.4,134.6 322.5,133.3 323.5,132.1 304.4,113.4 303.8,114.1 303.2,114.8 302.5,115.5 301.7,116.1" fill="#2aa9b8"/>
<polygon points="335.5,157.9 337.7,156.2 339.5,154.4 341.2,152.6 342.5,150.8 323.5,132.1 322.5,133.3 321.4,134.6 320.1,135.8 318.6,137" fill="#1da4b2"/>
<polygon points="352.5,178.7 355.3,176.5 357.7,174.2 359.8,171.9 361.6,169.4 342.5,150.8 341.2,152.6 339.5,154.4 337.7,156.2 335.5,157.9" fill="#12a196"/>
<polygon points="369.4,199.6 372.8,196.9 375.9,194.1 378.5,191.1 380.7,188.1 361.6,169.4 359.8,171.9 357.7,174.2 355.3,176.5 352.5,178.7" fill="#089d91"/>
<polygon points="386.4,220.5 390.4,217.3 394,213.9 397.2,210.4 399.8,206.8 380.7,188.1 378.5,191.1 375.9,194.1 372.8,196.9 369.4,199.6" fill="#009a8e"/>
<polygon points="403.3,241.4 408,237.6 412.2,233.7 415.8,229.7 418.9,225.5 399.8,206.8 397.2,210.4 394,213.9 390.4,217.3 386.4,220.5" fill="#009a8e"/>
<polygon points="420.2,262.3 425.6,258 430.4,253.5 434.5,248.9 438,244.2 418.9,225.5 415.8,229.7 412.2,233.7 408,237.6 403.3,241.4" fill="#009a8e"/>
<polygon points="304.4,113.4 304.8,112.6 305.1,111.9 305.3,111.2 305.4,110.4 280.5,90 280.5,90 280.5,90 280.5,90 280.5,90" fill="#75c4dc"/>
<polygon points="323.5,132.1 324.2,130.8 324.8,129.4 325.2,128.1 325.4,126.7 305.4,110.4 305.3,111.2 305.1,111.9 304.8,112.6 304.4,113.4" fill="#2aa3be"/>
<polygon points="342.5,150.8 343.6,148.9 344.5,146.9 345,145 345.3,143 325.4,126.7 325.2,128.1 324.8,129.4 324.2,130.8 323.5,132.1" fill="#1d9db9"/>
<polygon points="361.6,169.4 363.1,167 364.2,164.5 364.9,161.9 365.3,159.4 345.3,143 345,145 344.5,146.9 343.6,148.9 342.5,150.8" fill="#1295a1"/>
<polygon points="380.7,188.1 382.5,185.1 383.8,182 384.8,178.8 385.2,175.7 365.3,159.4 364.9,161.9 364.2,164.5 363.1,167 361.6,169.4" fill="#08909d"/>
<polygon points="399.8,206.8 401.9,203.2 403.5,199.5 404.6,195.8 405.2,192 385.2,175.7 384.8,178.8 383.8,182 382.5,185.1 380.7,188.1" fill="#008d9a"/>
<polygon points="418.9,225.5 421.4,221.3 423.2,217 424.5,212.7 425.1,208.3 405.2,192 404.6,195.8 403.5,199.5 401.9,203.2 399.8,206.8" fill="#008d9a"/>
<polygon points="438,244.2 440.8,239.4 442.9,234.5 444.3,229.6 445.1,224.7 425.1,208.3 424.5,212.7 423.2,217 421.4,221.3 418.9,225.5" fill="#008d9a"/>
<polygon points="305.4,110.4 305.4,109.7 305.3,109.1 305.1,108.6 304.8,108 280.5,90 280.5,90 280.5,90 280.5,90 280.5,90" fill="#75c0df"/>
<polygon points="325.4,126.7 325.4,125.5 325.2,124.5 324.8,123.4 324.3,122.4 304.8,108 305.1,108.6 305.3,109.1 305.4,109.7 305.4,110.4" fill="#2a9bc5"/>
<polygon points="345.3,143 345.3,141.3 345.1,139.8 344.5,138.3 343.7,136.8 324.3,122.4 324.8,123.4 325.2,124.5 325.4,125.5 325.4,126.7" fill="#1d94c0"/>
<polygon points="365.3,159.4 365.3,157.1 364.9,155.1 364.2,153.1 363.2,151.1 343.7,136.8 344.5,138.3 345.1,139.8 345.3,141.3 345.3,143" fill="#1287ac"/>
<polygon points="385.2,175.7 385.2,172.8 384.8,170.4 383.9,167.9 382.6,165.5 363.2,151.1 364.2,153.1 364.9,155.1 365.3,157.1 365.3,159.4" fill="#0882a9"/>
<polygon points="405.2,192 405.2,188.6 404.7,185.7 403.6,182.8 402.1,179.9 382.6,165.5 383.9,167.9 384.8,170.4 385.2,172.8 385.2,175.7" fill="#007ea6"/>
<polygon points="425.1,208.3 425.1,204.4 424.5,201 423.3,197.6 421.5,194.3 402.1,179.9 403.6,182.8 404.7,185.7 405.2,188.6 405.2,192" fill="#007ea6"/>
<polygon points="445.1,224.7 445.1,220.2 444.4,216.3 443,212.5 440.9,208.7 421.5,194.3 423.3,197.6 424.5,201 425.1,204.4 425.1,208.3" fill="#007ea6"/>
<polygon points="304.8,108 304.4,107.5 304,107 303.4,106.5 302.8,106 280.5,90 280.5,90 280.5,90 280.5,90 280.5,90" fill="#75bedf"/>
<polygon points="324.3,122.4 323.6,121.4 322.8,120.5 321.8,119.6 320.7,118.8 302.8,106 303.4,106.5 304,107 304.4,107.5 304.8,108" fill="#2a94c5"/>
<polygon points="343.7,136.8 342.7,135.4 341.5,134.1 340.1,132.8 338.5,131.5 320.7,118.8 321.8,119.6 322.8,120.5 323.6,121.4 324.3,122.4" fill="#1d8dc1"/>
<polygon points="363.2,151.1 361.9,149.4 360.3,147.7 358.5,146 356.3,144.3 338.5,131.5 340.1,132.8 341.5,134.1 342.7,135.4 343.7,136.8" fill="#127cae"/>
<polygon points="382.6,165.5 381,163.4 379.1,161.2 376.8,159.1 374.2,157.1 356.3,144.3 358.5,146 360.3,147.7 361.9,149.4 363.2,151.1" fill="#0876ab"/>
<polygon points="402.1,179.9 400.2,177.3 397.9,174.8 395.2,172.3 392,169.9 374.2,157.1 376.8,159.1 379.1,161.2 381,163.4 382.6,165.5" fill="#0072a8"/>
<polygon points="421.5,194.3 419.3,191.3 416.7,188.4 413.5,185.5 409.9,182.7 392,169.9 395.2,172.3 397.9,174.8 400.2,177.3 402.1,179.9" fill="#0072a8"/>
<polygon points="440.9,208.7 438.5,205.3 435.4,201.9 431.8,198.6 427.7,195.4 409.9,182.7 413.5,185.5 416.7,188.4 419.3,191.3 421.5,194.3" fill="#0072a8"/>
</g>
<g id="diamond">
<polygon points="643.7,88 664.3,104.7 643.8,121.5 623.2,104.8" fill="#ffffff"/>
<polygon points="664.3,104.7 685,121.4 664.4,138.2 643.8,121.5" fill="#f8b3c0"/>
<polygon points="685,121.4 705.6,138.1 685,155 664.4,138.2" fill="#f597a8"/>
<polygon points="705.6,138.1 726.2,154.8 705.7,171.7 685,155" fill="#f27290"/>
<polygon points="726.2,154.8 746.8,171.5 726.3,188.4 705.7,171.7" fill="#ef4e74"/>
<polygon points="746.8,171.5 767.5,188.2 746.9,205.1 726.3,188.4" fill="#ee3f5f"/>
<polygon points="767.5,188.2 788.1,204.9 767.5,221.8 746.9,205.1" fill="#ee3d5c"/>
<polygon points="788.1,204.9 808.7,221.6 788.2,238.6 767.5,221.8" fill="#ee3a58"/>
<polygon points="623.2,104.8 643.8,121.5 623.3,138.3 602.7,121.6" fill="#8ad0be"/>
<polygon points="643.8,121.5 664.4,138.2 643.9,155.1 623.3,138.3" fill="#bebec2"/>
<polygon points="664.4,138.2 685,155 664.5,171.8 643.9,155.1" fill="#f37f98"/>
<polygon points="685,155 705.7,171.7 685.1,188.6 664.5,171.8" fill="#f0607f"/>
<polygon points="705.7,171.7 726.3,188.4 705.8,205.3 685.1,188.6" fill="#ee4a6f"/>
<polygon points="726.3,188.4 746.9,205.1 726.4,222 705.8,205.3" fill="#ec3d62"/>
<polygon points="746.9,205.1 767.5,221.8 747,238.8 726.4,222" fill="#ea385d"/>
<polygon points="767.5,221.8 788.2,238.6 767.6,255.5 747,238.8" fill="#e6344f"/>
<polygon points="602.7,121.6 623.3,138.3 602.7,155.1 582.1,138.4" fill="#3cbba5"/>
<polygon points="623.3,138.3 643.9,155.1 623.4,171.9 602.7,155.1" fill="#3fbba4"/>
<polygon points="643.9,155.1 664.5,171.8 644,188.7 623.4,171.9" fill="#97989c"/>
<polygon points="664.5,171.8 685.1,188.6 664.6,205.4 644,188.7" fill="#ce7088"/>
<polygon points="685.1,188.6 705.8,205.3 685.2,222.2 664.6,205.4" fill="#ce5070"/>
<polygon points="705.8,205.3 726.4,222 705.8,239 685.2,222.2" fill="#cb3a5e"/>
<polygon points="726.4,222 747,238.8 726.5,255.7 705.8,239" fill="#cc3558"/>
<polygon points="747,238.8 767.6,255.5 747.1,272.5 726.5,255.7" fill="#c82f4a"/>
<polygon points="582.1,138.4 602.7,155.1 582.2,171.9 561.6,155.2" fill="#02b198"/>
<polygon points="602.7,155.1 623.4,171.9 602.8,188.7 582.2,171.9" fill="#00a79a"/>
<polygon points="623.4,171.9 644,188.7 623.5,205.5 602.8,188.7" fill="#3f958c"/>
<polygon points="644,188.7 664.6,205.4 644.1,222.3 623.5,205.5" fill="#838488"/>
<polygon points="664.6,205.4 685.2,222.2 664.7,239.1 644.1,222.3" fill="#9c5468"/>
<polygon points="685.2,222.2 705.8,239 685.3,255.9 664.7,239.1" fill="#a03d58"/>
<polygon points="705.8,239 726.5,255.7 705.9,272.7 685.3,255.9" fill="#9c304c"/>
<polygon points="726.5,255.7 747.1,272.5 726.5,289.5 705.9,272.7" fill="#a3283f"/>
<polygon points="561.6,155.2 582.2,171.9 561.7,188.7 541.1,171.9" fill="#00a886"/>
<polygon points="582.2,171.9 602.8,188.7 582.3,205.6 561.7,188.7" fill="#00a184"/>
<polygon points="602.8,188.7 623.5,205.5 602.9,222.4 582.3,205.6" fill="#00827e"/>
<polygon points="623.5,205.5 644.1,222.3 623.5,239.2 602.9,222.4" fill="#47756f"/>
<polygon points="644.1,222.3 664.7,239.1 644.2,256 623.5,239.2" fill="#6e6f73"/>
<polygon points="664.7,239.1 685.3,255.9 664.8,272.8 644.2,256" fill="#7a4352"/>
<polygon points="685.3,255.9 705.9,272.7 685.4,289.6 664.8,272.8" fill="#852e48"/>
<polygon points="705.9,272.7 726.5,289.5 706,306.4 685.4,289.6" fill="#892638"/>
<polygon points="541.1,171.9 561.7,188.7 541.2,205.6 520.5,188.7" fill="#00a47f"/>
<polygon points="561.7,188.7 582.3,205.6 561.8,222.4 541.2,205.6" fill="#009b7c"/>
<polygon points="582.3,205.6 602.9,222.4 582.4,239.2 561.8,222.4" fill="#007f7c"/>
<polygon points="602.9,222.4 623.5,239.2 603,256.1 582.4,239.2" fill="#17686a"/>
<polygon points="623.5,239.2 644.2,256 623.6,272.9 603,256.1" fill="#355f5d"/>
<polygon points="644.2,256 664.8,272.8 644.2,289.7 623.6,272.9" fill="#5d5e62"/>
<polygon points="664.8,272.8 685.4,289.6 664.9,306.5 644.2,289.7" fill="#653542"/>
<polygon points="685.4,289.6 706,306.4 685.5,323.4 664.9,306.5" fill="#6f2231"/>
<polygon points="520.5,188.7 541.2,205.6 520.6,222.4 500,205.5" fill="#00a17b"/>
<polygon points="541.2,205.6 561.8,222.4 541.3,239.2 520.6,222.4" fill="#008d74"/>
<polygon points="561.8,222.4 582.4,239.2 561.9,256.1 541.3,239.2" fill="#00706b"/>
<polygon points="582.4,239.2 603,256.1 582.5,272.9 561.9,256.1" fill="#00756a"/>
<polygon points="603,256.1 623.6,272.9 603.1,289.8 582.5,272.9" fill="#0b5c60"/>
<polygon points="623.6,272.9 644.2,289.7 623.7,306.6 603.1,289.8" fill="#234f4e"/>
<polygon points="644.2,289.7 664.9,306.5 644.3,323.5 623.7,306.6" fill="#48474b"/>
<polygon points="664.9,306.5 685.5,323.4 664.9,340.3 644.3,323.5" fill="#581f2a"/>
<polygon points="500,205.5 520.6,222.4 500.1,239.2 479.5,222.3" fill="#009973"/>
<polygon points="520.6,222.4 541.3,239.2 520.7,256.1 500.1,239.2" fill="#008a6b"/>
<polygon points="541.3,239.2 561.9,256.1 541.3,272.9 520.7,256.1" fill="#007f69"/>
<polygon points="561.9,256.1 582.5,272.9 562,289.8 541.3,272.9" fill="#006e5e"/>
<polygon points="582.5,272.9 603.1,289.8 582.6,306.7 562,289.8" fill="#00625f"/>
<polygon points="603.1,289.8 623.7,306.6 603.2,323.6 582.6,306.7" fill="#15403f"/>
<polygon points="623.7,306.6 644.3,323.5 623.8,340.4 603.2,323.6" fill="#1f3433"/>
<polygon points="644.3,323.5 664.9,340.3 644.4,357.3 623.8,340.4" fill="#231f20"/>
<path d="M643.7 88L808.7 221.6M643.7 88L479.5 222.3" stroke="#1c1c24" stroke-width="1.5" fill="none" stroke-linecap="round"/>
<path d="M623.2 104.8L788.2 238.6M664.3 104.7L500.1 239.2" stroke="#1c1c24" stroke-width="1.5" fill="none" stroke-linecap="round"/>
<path d="M602.7 121.6L767.6 255.5M685 121.4L520.7 256.1" stroke="#1c1c24" stroke-width="1.5" fill="none" stroke-linecap="round"/>
<path d="M582.1 138.4L747.1 272.5M705.6 138.1L541.3 272.9" stroke="#1c1c24" stroke-width="1.5" fill="none" stroke-linecap="round"/>
<path d="M561.6 155.2L726.5 289.5M726.2 154.8L562 289.8" stroke="#1c1c24" stroke-width="1.5" fill="none" stroke-linecap="round"/>
<path d="M541.1 171.9L706 306.4M746.8 171.5L582.6 306.7" stroke="#1c1c24" stroke-width="1.5" fill="none" stroke-linecap="round"/>
<path d="M520.5 188.7L685.5 323.4M767.5 188.2L603.2 323.6" stroke="#1c1c24" stroke-width="1.5" fill="none" stroke-linecap="round"/>
<path d="M500 205.5L664.9 340.3M788.1 204.9L623.8 340.4" stroke="#1c1c24" stroke-width="1.5" fill="none" stroke-linecap="round"/>
<path d="M479.5 222.3L644.4 357.3M808.7 221.6L644.4 357.3" stroke="#1c1c24" stroke-width="1.5" fill="none" stroke-linecap="round"/>
</g>
<g id="vhc" fill="none">
<path d="M211.2 540V695M211.2 711V777" stroke="#28327f" stroke-width="1.8"/>
<path d="M211.2 535.5L206.2 546.5L211.2 544L216.2 546.5Z" fill="#28327f"/>
<path d="M211.2 781.5L206.2 770.5L211.2 773L216.2 770.5Z" fill="#28327f"/>
<polyline points="204.8,615.2 201.1,615.3 197.4,615.5 193.7,615.8 190.1,616.1 186.4,616.4 182.8,616.8 179.2,617.2 175.7,617.7 172.2,618.3 168.8,618.9 165.4,619.5 162.1,620.2 158.8,620.9 155.6,621.7 152.5,622.5 149.4,623.4 146.4,624.3 143.5,625.3 140.7,626.3 138,627.3 135.3,628.4 132.8,629.5 130.3,630.6 128,631.8 125.7,633 123.6,634.3 121.6,635.5 119.6,636.9 117.8,638.2 116.1,639.5 114.6,640.9 113.1,642.3 111.8,643.7 110.5,645.2 109.4,646.6 108.5,648.1 107.6,649.6 106.9,651 106.3,652.5 105.9,654.1 105.6,655.6 105.4,657.1 105.3,658.6 105.4,660.1 105.6,661.6 105.9,663.1 106.3,664.7 106.9,666.2 107.6,667.6 108.5,669.1 109.4,670.6 110.5,672 111.8,673.5 113.1,674.9 114.6,676.3 116.1,677.7 117.8,679 119.6,680.4 121.6,681.7 123.6,682.9 125.7,684.2 128,685.4 130.3,686.6 132.8,687.7 135.3,688.8 138,689.9 140.7,690.9 143.5,691.9 146.4,692.9 149.4,693.8 152.5,694.7 155.6,695.5 158.8,696.3 162.1,697 165.4,697.7 168.8,698.3 172.2,698.9 175.7,699.5 179.2,700 182.8,700.4 186.4,700.8 190.1,701.1 193.7,701.4 197.4,701.7 201.1,701.9 204.8,702 208.6,702.1 212.3,702.1 216,702.1 219.8,702 223.5,701.9 227.2,701.7 230.9,701.4 234.5,701.1 238.2,700.8 241.8,700.4 245.4,700 248.9,699.5 252.4,698.9 255.8,698.3 259.2,697.7 262.5,697 265.8,696.3 269,695.5 272.1,694.7 275.2,693.8 278.2,692.9 281.1,691.9 283.9,690.9 286.6,689.9 289.3,688.8 291.8,687.7 294.3,686.6 296.6,685.4 298.9,684.2 301,682.9 303,681.7 305,680.4 306.8,679 308.5,677.7 310,676.3 311.5,674.9 312.8,673.5 314.1,672 315.2,670.6 316.1,669.1 317,667.6 317.7,666.2 318.3,664.7 318.7,663.1 319,661.6 319.2,660.1 319.3,658.6 319.2,657.1 319,655.6 318.7,654.1 318.3,652.5 317.7,651 317,649.6 316.1,648.1" stroke="#0b4a3a" stroke-width="1.9"/>
<path d="M310.1 640.1L320.3 647.1L314.8 647.2L312.6 652.2Z" fill="#0b4a3a"/>
<path d="M219.5 615.6Q236 615.8 252 618.3" stroke="#0b4a3a" stroke-width="1.8"/>
<path d="M258.5 619.3L247 614.6L249.6 619L246.2 623.4Z" fill="#0b4a3a"/>
<path d="M63 697.8L195.5 665" stroke="#9e1f2b" stroke-width="1.8"/>
<path d="M57.8 699.4L69.5 691.6L67.3 696.8L71.6 700.6Z" fill="#9e1f2b"/>
<path d="M200.6 663.4L188.9 671.2L191.1 666L186.8 662.2Z" fill="#9e1f2b"/>
<text x="134" y="569" font-size="26.3" fill="#28327f" font-family="'Liberation Sans', sans-serif">Value</text>
<text x="268" y="628.8" font-size="26.6" fill="#0b4a3a" font-family="'Liberation Sans', sans-serif">Hue</text>
<text x="44.5" y="728" font-size="26.6" fill="#9e1f2b" font-family="'Liberation Sans', sans-serif">Chroma</text>
</g>
<g id="solid">
<path d="M458.5 730V783A14 9 0 0 0 486.5 783V730Z" fill="#161616"/>
<polygon points="472.5,709.3 472.5,683.4 475,683.5 477.5,683.6 480,683.9 482.4,684.2 484.9,684.7 487.2,685.2 489.5,685.9 491.8,686.6 493.9,687.4 496,688.4" fill="#283018" stroke="#181418" stroke-width="0.9" stroke-linejoin="round"/>
<polygon points="472.5,709.3 449,688.4 451.1,687.4 453.2,686.6 455.5,685.9 457.8,685.2 460.1,684.7 462.6,684.2 465,683.9 467.5,683.6 470,683.5 472.5,683.4" fill="#303018" stroke="#181418" stroke-width="0.9" stroke-linejoin="round"/>
<polygon points="472.5,709.3 496,688.4 498,689.4 499.9,690.4 501.7,691.6 503.3,692.8 504.9,694.1 506.3,695.4 507.6,696.8 508.7,698.3 509.7,699.8 510.5,701.3" fill="#183028" stroke="#181418" stroke-width="0.9" stroke-linejoin="round"/>
<polygon points="472.5,709.3 424.9,699.3 426,697.4 427.3,695.5 428.7,693.7 430.3,692 432,690.3 434,688.7 436.1,687.2 438.3,685.7 440.6,684.4 443.1,683.1" fill="#40281c" stroke="#181418" stroke-width="0.9" stroke-linejoin="round"/>
<polygon points="472.5,709.3 520.1,699.3 520.9,701.3 521.6,703.2 522.1,705.2 522.4,707.3 522.5,709.3 522.4,711.3 522.1,713.4 521.6,715.4 520.9,717.3 520.1,719.3" fill="#103040" stroke="#181418" stroke-width="0.9" stroke-linejoin="round"/>
<polygon points="522.5,709.3 522.4,711.3 522.1,713.4 521.6,715.4 520.9,717.3 520.1,719.3 520.1,739.7 520.9,737.7 521.6,735.8 522.1,733.8 522.4,731.7 522.5,729.7" fill="#0f2c3b" stroke="#181418" stroke-width="0.9" stroke-linejoin="round"/>
<polygon points="472.5,709.3 398.3,724.9 397,721.9 395.9,718.8 395.1,715.6 394.7,712.5 394.5,709.3 394.7,706.1 395.1,703 395.9,699.8 397,696.7 398.3,693.7" fill="#601c28" stroke="#181418" stroke-width="0.9" stroke-linejoin="round"/>
<polygon points="398.3,724.9 397,721.9 395.9,718.8 395.1,715.6 394.7,712.5 394.5,709.3 394.5,729.7 394.7,732.9 395.1,736 395.9,739.2 397,742.3 398.3,745.3" fill="#581a25" stroke="#181418" stroke-width="0.9" stroke-linejoin="round"/>
<polygon points="472.5,709.3 529.6,721.3 528.3,723.6 526.8,725.8 525.1,728 523.2,730.1 521,732.1 518.7,734 516.2,735.9 513.6,737.6 510.7,739.2 507.8,740.7" fill="#202c60" stroke="#181418" stroke-width="0.9" stroke-linejoin="round"/>
<polygon points="529.6,721.3 528.3,723.6 526.8,725.8 525.1,728 523.2,730.1 521,732.1 518.7,734 516.2,735.9 513.6,737.6 510.7,739.2 507.8,740.7 507.8,761.1 510.7,759.6 513.6,758 516.2,756.3 518.7,754.4 521,752.5 523.2,750.5 525.1,748.4 526.8,746.2 528.3,744 529.6,741.7" fill="#1c2858" stroke="#181418" stroke-width="0.9" stroke-linejoin="round"/>
<polygon points="472.5,709.3 424.3,752.2 420.2,750.2 416.4,748 412.7,745.6 409.3,743.1 406.2,740.5 403.3,737.7 400.6,734.9 398.3,731.9 396.3,728.8 394.5,725.7" fill="#5c1c38" stroke="#181418" stroke-width="0.9" stroke-linejoin="round"/>
<polygon points="426.7,750.1 424.3,752.2 424.3,772.6 426.7,770.5" fill="#5c1c38" stroke="#181418" stroke-width="0.9" stroke-linejoin="round"/>
<polygon points="424.3,752.2 420.2,750.2 416.4,748 412.7,745.6 409.3,743.1 406.2,740.5 403.3,737.7 400.6,734.9 398.3,731.9 396.3,728.8 394.5,725.7 394.5,746.1 396.3,749.2 398.3,752.3 400.6,755.3 403.3,758.1 406.2,760.9 409.3,763.5 412.7,766 416.4,768.4 420.2,770.6 424.3,772.6" fill="#5c1c38" stroke="#181418" stroke-width="0.9" stroke-linejoin="round"/>
<polygon points="472.5,709.3 524.2,755.4 519.7,757.4 514.9,759.2 510,760.8 504.9,762.2 499.7,763.4 494.4,764.4 489,765.2 483.5,765.8 478,766.1 472.5,766.2" fill="#3c2c80" stroke="#181418" stroke-width="0.9" stroke-linejoin="round"/>
<polygon points="524.2,755.4 519.7,757.4 514.9,759.2 510,760.8 504.9,762.2 499.7,763.4 494.4,764.4 489,765.2 483.5,765.8 478,766.1 472.5,766.2 472.5,786.6 478,786.5 483.5,786.2 489,785.6 494.4,784.8 499.7,783.8 504.9,782.6 510,781.2 514.9,779.6 519.7,777.8 524.2,775.8" fill="#382878" stroke="#181418" stroke-width="0.9" stroke-linejoin="round"/>
<polygon points="472.5,709.3 472.5,759.8 467.6,759.7 462.7,759.4 457.9,758.9 453.1,758.2 448.4,757.3 443.8,756.2 439.3,755 434.9,753.5 430.7,751.9 426.7,750.1" fill="#4c2050" stroke="#181418" stroke-width="0.9" stroke-linejoin="round"/>
<polygon points="472.5,759.8 467.6,759.7 462.7,759.4 457.9,758.9 453.1,758.2 448.4,757.3 443.8,756.2 439.3,755 434.9,753.5 430.7,751.9 426.7,750.1 426.7,770.5 430.7,772.3 434.9,773.9 439.3,775.4 443.8,776.6 448.4,777.7 453.1,778.6 457.9,779.3 462.7,779.8 467.6,780.1 472.5,780.2" fill="#4c2050" stroke="#181418" stroke-width="0.9" stroke-linejoin="round"/>
<polygon points="472.5,686.3 472.5,663 474.8,663.1 477,663.2 479.2,663.4 481.5,663.7 483.6,664.1 485.8,664.6 487.8,665.2 489.8,665.9 491.8,666.6 493.7,667.5" fill="#50622a" stroke="#1a161a" stroke-width="1.1" stroke-linejoin="round"/>
<polygon points="472.5,686.3 472.5,668.8 474.2,668.9 475.9,669 477.6,669.1 479.2,669.4 480.8,669.7 482.4,670.1 484,670.5 485.5,671 487,671.6 488.4,672.2" fill="#515b35" stroke="#1a161a" stroke-width="1.1" stroke-linejoin="round"/>
<polygon points="472.5,686.3 472.5,677.6 473.3,677.6 474.2,677.6 475,677.7 475.9,677.8 476.7,678 477.5,678.2 478.2,678.4 479,678.6 479.7,678.9 480.4,679.2" fill="#525540" stroke="#1a161a" stroke-width="1.1" stroke-linejoin="round"/>
<polygon points="472.5,686.3 444.3,661.2 446.8,660.1 449.4,659.1 452.1,658.2 454.8,657.4 457.7,656.8 460.6,656.2 463.5,655.8 466.5,655.5 469.5,655.3 472.5,655.2" fill="#68562c" stroke="#1a161a" stroke-width="1.1" stroke-linejoin="round"/>
<polygon points="472.5,686.3 448.7,665.1 450.8,664.2 453,663.3 455.3,662.6 457.6,661.9 460,661.4 462.4,660.9 464.9,660.6 467.4,660.3 470,660.1 472.5,660.1" fill="#645434" stroke="#1a161a" stroke-width="1.1" stroke-linejoin="round"/>
<polygon points="472.5,686.3 456.6,672.2 458,671.6 459.5,671 461,670.5 462.6,670.1 464.2,669.7 465.8,669.4 467.4,669.1 469.1,669 470.8,668.9 472.5,668.8" fill="#60513c" stroke="#1a161a" stroke-width="1.1" stroke-linejoin="round"/>
<polygon points="472.5,686.3 464.6,679.2 465.3,678.9 466,678.6 466.8,678.4 467.5,678.2 468.3,678 469.1,677.8 470,677.7 470.8,677.6 471.7,677.6 472.5,677.6" fill="#5c4f43" stroke="#1a161a" stroke-width="1.1" stroke-linejoin="round"/>
<polygon points="472.5,686.3 496.6,664.8 498.6,665.9 500.6,667 502.4,668.1 504.1,669.4 505.7,670.7 507.1,672.1 508.4,673.5 509.6,675 510.6,676.5 511.5,678.1" fill="#1e5444" stroke="#1a161a" stroke-width="1.1" stroke-linejoin="round"/>
<polygon points="472.5,686.3 496.3,665.1 498.3,666.1 500.2,667.2 502,668.4 503.7,669.6 505.3,670.9 506.7,672.3 508,673.7 509.1,675.1 510.2,676.7 511,678.2" fill="#295247" stroke="#1a161a" stroke-width="1.1" stroke-linejoin="round"/>
<polygon points="472.5,686.3 488.4,672.2 489.7,672.8 491,673.6 492.2,674.3 493.3,675.2 494.3,676 495.3,676.9 496.2,677.9 496.9,678.9 497.6,679.9 498.2,680.9" fill="#34504a" stroke="#1a161a" stroke-width="1.1" stroke-linejoin="round"/>
<polygon points="472.5,686.3 480.4,679.2 481.1,679.6 481.7,679.9 482.3,680.3 482.9,680.7 483.4,681.2 483.9,681.6 484.3,682.1 484.7,682.6 485.1,683.1 485.3,683.6" fill="#3f4e4d" stroke="#1a161a" stroke-width="1.1" stroke-linejoin="round"/>
<polygon points="472.5,686.3 408,672.7 409.5,670.2 411.2,667.6 413.1,665.2 415.3,662.8 417.6,660.5 420.3,658.3 423.1,656.3 426.1,654.3 429.3,652.5 432.6,650.8" fill="#8e5228" stroke="#1a161a" stroke-width="1.1" stroke-linejoin="round"/>
<polygon points="472.5,686.3 408.3,672.8 409.7,670.2 411.4,667.7 413.3,665.3 415.5,662.9 417.9,660.6 420.5,658.5 423.3,656.4 426.3,654.5 429.5,652.6 432.8,651" fill="#86512e" stroke="#1a161a" stroke-width="1.1" stroke-linejoin="round"/>
<polygon points="472.5,686.3 421.1,675.5 422.3,673.4 423.6,671.4 425.2,669.5 426.9,667.6 428.8,665.8 430.9,664 433.1,662.4 435.5,660.8 438.1,659.4 440.8,658" fill="#7e5033" stroke="#1a161a" stroke-width="1.1" stroke-linejoin="round"/>
<polygon points="472.5,686.3 434,678.2 434.8,676.7 435.9,675.1 437,673.7 438.3,672.3 439.7,670.9 441.3,669.6 443,668.4 444.8,667.2 446.7,666.1 448.7,665.1" fill="#764f39" stroke="#1a161a" stroke-width="1.1" stroke-linejoin="round"/>
<polygon points="472.5,686.3 446.8,680.9 447.4,679.9 448.1,678.9 448.8,677.9 449.7,676.9 450.7,676 451.7,675.2 452.8,674.3 454,673.6 455.3,672.8 456.6,672.2" fill="#6e4e3f" stroke="#1a161a" stroke-width="1.1" stroke-linejoin="round"/>
<polygon points="472.5,686.3 459.7,683.6 459.9,683.1 460.3,682.6 460.7,682.1 461.1,681.6 461.6,681.2 462.1,680.7 462.7,680.3 463.3,679.9 463.9,679.6 464.6,679.2" fill="#664d45" stroke="#1a161a" stroke-width="1.1" stroke-linejoin="round"/>
<polygon points="472.5,686.3 522.9,675.7 523.8,677.8 524.6,679.9 525.1,682 525.4,684.1 525.5,686.3 525.4,688.5 525.1,690.6 524.6,692.7 523.8,694.8 522.9,696.9" fill="#006084" stroke="#1a161a" stroke-width="1.1" stroke-linejoin="round"/>
<polygon points="472.5,686.3 511,678.2 511.7,679.8 512.3,681.4 512.7,683 512.9,684.7 513,686.3 512.9,687.9 512.7,689.6 512.3,691.2 511.7,692.8 511,694.4" fill="#115b7a" stroke="#1a161a" stroke-width="1.1" stroke-linejoin="round"/>
<polygon points="472.5,686.3 498.2,680.9 498.7,682 499,683 499.3,684.1 499.4,685.2 499.5,686.3 499.4,687.4 499.3,688.5 499,689.6 498.7,690.6 498.2,691.7" fill="#225770" stroke="#1a161a" stroke-width="1.1" stroke-linejoin="round"/>
<polygon points="472.5,686.3 485.3,683.6 485.6,684.1 485.8,684.7 485.9,685.2 486,685.8 486,686.3 486,686.8 485.9,687.4 485.8,687.9 485.6,688.5 485.3,689" fill="#345265" stroke="#1a161a" stroke-width="1.1" stroke-linejoin="round"/>
<polygon points="525.5,686.3 525.4,688.5 525.1,690.6 524.6,692.7 523.8,694.8 522.9,696.9 522.9,719.9 523.8,717.8 524.6,715.7 525.1,713.6 525.4,711.5 525.5,709.3" fill="#005070" stroke="#1a161a" stroke-width="1.1" stroke-linejoin="round"/>
<polygon points="472.5,686.3 371.7,707.5 369.8,703.4 368.4,699.2 367.3,694.9 366.7,690.6 366.5,686.3 366.7,682 367.3,677.7 368.4,673.4 369.8,669.2 371.7,665.1" fill="#e22f38" stroke="#1a161a" stroke-width="1.1" stroke-linejoin="round"/>
<polygon points="472.5,686.3 382.6,705.2 381,701.5 379.7,697.8 378.7,694 378.2,690.1 378,686.3 378.2,682.5 378.7,678.6 379.7,674.8 381,671.1 382.6,667.4" fill="#d3323b" stroke="#1a161a" stroke-width="1.1" stroke-linejoin="round"/>
<polygon points="472.5,686.3 395.5,702.5 394,699.3 392.9,696.1 392.1,692.9 391.7,689.6 391.5,686.3 391.7,683 392.1,679.7 392.9,676.5 394,673.3 395.5,670.1" fill="#c5353d" stroke="#1a161a" stroke-width="1.1" stroke-linejoin="round"/>
<polygon points="472.5,686.3 408.3,699.8 407.1,697.2 406.2,694.5 405.5,691.8 405.1,689 405,686.3 405.1,683.6 405.5,680.8 406.2,678.1 407.1,675.4 408.3,672.8" fill="#b63740" stroke="#1a161a" stroke-width="1.1" stroke-linejoin="round"/>
<polygon points="472.5,686.3 421.1,697.1 420.2,695 419.5,692.8 418.9,690.7 418.6,688.5 418.5,686.3 418.6,684.1 418.9,681.9 419.5,679.8 420.2,677.6 421.1,675.5" fill="#a83a43" stroke="#1a161a" stroke-width="1.1" stroke-linejoin="round"/>
<polygon points="472.5,686.3 434,694.4 433.3,692.8 432.7,691.2 432.3,689.6 432.1,687.9 432,686.3 432.1,684.7 432.3,683 432.7,681.4 433.3,679.8 434,678.2" fill="#993d45" stroke="#1a161a" stroke-width="1.1" stroke-linejoin="round"/>
<polygon points="472.5,686.3 446.8,691.7 446.3,690.6 446,689.6 445.7,688.5 445.6,687.4 445.5,686.3 445.6,685.2 445.7,684.1 446,683 446.3,682 446.8,680.9" fill="#8b4048" stroke="#1a161a" stroke-width="1.1" stroke-linejoin="round"/>
<polygon points="472.5,686.3 459.7,689 459.4,688.5 459.2,687.9 459.1,687.4 459,686.8 459,686.3 459,685.8 459.1,685.2 459.2,684.7 459.4,684.1 459.7,683.6" fill="#7c424b" stroke="#1a161a" stroke-width="1.1" stroke-linejoin="round"/>
<polygon points="382.4,705.2 371.7,707.5 371.7,730.5 382.4,728.2" fill="#de2e36" stroke="#1a161a" stroke-width="1.1" stroke-linejoin="round"/>
<polygon points="371.7,707.5 369.8,703.4 368.4,699.2 367.3,694.9 366.7,690.6 366.5,686.3 366.5,709.3 366.7,713.6 367.3,717.9 368.4,722.2 369.8,726.4 371.7,730.5" fill="#de2e36" stroke="#1a161a" stroke-width="1.1" stroke-linejoin="round"/>
<polygon points="472.5,686.3 536,699.7 534.6,702.2 532.9,704.7 531,707.1 528.9,709.5 526.5,711.7 524,713.8 521.2,715.9 518.2,717.8 515.1,719.6 511.8,721.3" fill="#2040a0" stroke="#1a161a" stroke-width="1.1" stroke-linejoin="round"/>
<polygon points="472.5,686.3 523.9,697.1 522.7,699.2 521.4,701.2 519.8,703.1 518.1,705 516.2,706.8 514.1,708.6 511.9,710.2 509.5,711.8 506.9,713.2 504.2,714.6" fill="#294293" stroke="#1a161a" stroke-width="1.1" stroke-linejoin="round"/>
<polygon points="472.5,686.3 511,694.4 510.2,695.9 509.1,697.5 508,698.9 506.7,700.3 505.3,701.7 503.7,703 502,704.2 500.2,705.4 498.3,706.5 496.3,707.5" fill="#314386" stroke="#1a161a" stroke-width="1.1" stroke-linejoin="round"/>
<polygon points="472.5,686.3 498.2,691.7 497.6,692.7 496.9,693.7 496.2,694.7 495.3,695.7 494.3,696.6 493.3,697.4 492.2,698.3 491,699 489.7,699.8 488.4,700.4" fill="#3a457a" stroke="#1a161a" stroke-width="1.1" stroke-linejoin="round"/>
<polygon points="472.5,686.3 485.3,689 485.1,689.5 484.7,690 484.3,690.5 483.9,691 483.4,691.4 482.9,691.9 482.3,692.3 481.7,692.7 481.1,693 480.4,693.4" fill="#42476d" stroke="#1a161a" stroke-width="1.1" stroke-linejoin="round"/>
<polygon points="536,699.7 534.6,702.2 532.9,704.7 531,707.1 528.9,709.5 526.5,711.7 524,713.8 521.2,715.9 518.2,717.8 515.1,719.6 511.8,721.3 511.8,744.3 515.1,742.6 518.2,740.8 521.2,738.9 524,736.8 526.5,734.7 528.9,732.5 531,730.1 532.9,727.7 534.6,725.2 536,722.7" fill="#1c3c98" stroke="#1a161a" stroke-width="1.1" stroke-linejoin="round"/>
<polygon points="472.5,686.3 416.8,735.9 412.1,733.5 407.7,731 403.5,728.2 399.5,725.4 395.9,722.3 392.5,719.1 389.5,715.8 386.8,712.4 384.5,708.9 382.4,705.2" fill="#b42860" stroke="#1a161a" stroke-width="1.1" stroke-linejoin="round"/>
<polygon points="472.5,686.3 417,735.8 412.3,733.4 407.8,730.9 403.6,728.2 399.7,725.3 396,722.2 392.7,719.1 389.7,715.8 387,712.3 384.6,708.8 382.6,705.2" fill="#aa2b5f" stroke="#1a161a" stroke-width="1.1" stroke-linejoin="round"/>
<polygon points="472.5,686.3 424.9,728.7 420.9,726.7 417.1,724.5 413.5,722.2 410.1,719.7 407,717.1 404.1,714.4 401.5,711.5 399.2,708.6 397.2,705.6 395.5,702.5" fill="#a02f5d" stroke="#1a161a" stroke-width="1.1" stroke-linejoin="round"/>
<polygon points="472.5,686.3 432.8,721.6 429.5,720 426.3,718.1 423.3,716.2 420.5,714.1 417.9,712 415.5,709.7 413.3,707.3 411.4,704.9 409.7,702.4 408.3,699.8" fill="#96325c" stroke="#1a161a" stroke-width="1.1" stroke-linejoin="round"/>
<polygon points="472.5,686.3 440.8,714.6 438.1,713.2 435.5,711.8 433.1,710.2 430.9,708.6 428.8,706.8 426.9,705 425.2,703.1 423.6,701.2 422.3,699.2 421.1,697.1" fill="#8d365a" stroke="#1a161a" stroke-width="1.1" stroke-linejoin="round"/>
<polygon points="472.5,686.3 448.7,707.5 446.7,706.5 444.8,705.4 443,704.2 441.3,703 439.7,701.7 438.3,700.3 437,698.9 435.9,697.5 434.8,695.9 434,694.4" fill="#833959" stroke="#1a161a" stroke-width="1.1" stroke-linejoin="round"/>
<polygon points="472.5,686.3 456.6,700.4 455.3,699.8 454,699 452.8,698.3 451.7,697.4 450.7,696.6 449.7,695.7 448.8,694.7 448.1,693.7 447.4,692.7 446.8,691.7" fill="#793d57" stroke="#1a161a" stroke-width="1.1" stroke-linejoin="round"/>
<polygon points="472.5,686.3 464.6,693.4 463.9,693 463.3,692.7 462.7,692.3 462.1,691.9 461.6,691.4 461.1,691 460.7,690.5 460.3,690 459.9,689.5 459.7,689" fill="#6f4056" stroke="#1a161a" stroke-width="1.1" stroke-linejoin="round"/>
<polygon points="416.8,735.9 412.1,733.5 407.7,731 403.5,728.2 399.5,725.4 395.9,722.3 392.5,719.1 389.5,715.8 386.8,712.4 384.5,708.9 382.4,705.2 382.4,728.2 384.5,731.9 386.8,735.4 389.5,738.8 392.5,742.1 395.9,745.3 399.5,748.4 403.5,751.2 407.7,754 412.1,756.5 416.8,758.9" fill="#ae2858" stroke="#1a161a" stroke-width="1.1" stroke-linejoin="round"/>
<polygon points="472.5,686.3 517.8,726.6 513.8,728.4 509.6,730 505.3,731.4 500.8,732.6 496.3,733.7 491.6,734.6 486.9,735.2 482.2,735.7 477.3,736 472.5,736.1" fill="#4a38a2" stroke="#1a161a" stroke-width="1.1" stroke-linejoin="round"/>
<polygon points="472.5,686.3 512.2,721.6 508.7,723.2 505,724.6 501.2,725.8 497.3,726.9 493.4,727.8 489.3,728.6 485.1,729.2 481,729.6 476.7,729.9 472.5,730" fill="#4b3a97" stroke="#1a161a" stroke-width="1.1" stroke-linejoin="round"/>
<polygon points="472.5,686.3 504.2,714.6 501.4,715.8 498.5,716.9 495.5,717.9 492.4,718.8 489.2,719.5 485.9,720.1 482.6,720.6 479.3,721 475.9,721.2 472.5,721.2" fill="#4d3d8c" stroke="#1a161a" stroke-width="1.1" stroke-linejoin="round"/>
<polygon points="472.5,686.3 496.3,707.5 494.2,708.4 492,709.3 489.7,710 487.4,710.7 485,711.2 482.6,711.7 480.1,712 477.6,712.3 475,712.5 472.5,712.5" fill="#4e3f81" stroke="#1a161a" stroke-width="1.1" stroke-linejoin="round"/>
<polygon points="472.5,686.3 488.4,700.4 487,701 485.5,701.6 484,702.1 482.4,702.5 480.8,702.9 479.2,703.2 477.6,703.5 475.9,703.6 474.2,703.7 472.5,703.8" fill="#4f4276" stroke="#1a161a" stroke-width="1.1" stroke-linejoin="round"/>
<polygon points="472.5,686.3 480.4,693.4 479.7,693.7 479,694 478.2,694.2 477.5,694.4 476.7,694.6 475.9,694.8 475,694.9 474.2,695 473.3,695 472.5,695" fill="#51446b" stroke="#1a161a" stroke-width="1.1" stroke-linejoin="round"/>
<polygon points="517.8,726.6 513.8,728.4 509.6,730 505.3,731.4 500.8,732.6 496.3,733.7 491.6,734.6 486.9,735.2 482.2,735.7 477.3,736 472.5,736.1 472.5,759.1 477.3,759 482.2,758.7 486.9,758.2 491.6,757.6 496.3,756.7 500.8,755.6 505.3,754.4 509.6,753 513.8,751.4 517.8,749.6" fill="#4636a0" stroke="#1a161a" stroke-width="1.1" stroke-linejoin="round"/>
<polygon points="472.5,686.3 472.5,749.1 466.4,748.9 460.3,748.6 454.3,747.9 448.4,747.1 442.5,746 436.8,744.7 431.2,743.1 425.8,741.3 420.5,739.3 415.5,737.1" fill="#862a84" stroke="#1a161a" stroke-width="1.1" stroke-linejoin="round"/>
<polygon points="472.5,686.3 472.5,747.4 466.6,747.3 460.7,747 454.8,746.4 449,745.5 443.3,744.4 437.7,743.1 432.3,741.6 427,739.9 421.9,737.9 417,735.8" fill="#812d7f" stroke="#1a161a" stroke-width="1.1" stroke-linejoin="round"/>
<polygon points="472.5,686.3 472.5,738.7 467.4,738.6 462.3,738.3 457.3,737.8 452.4,737.1 447.5,736.1 442.7,735 438,733.7 433.5,732.2 429.1,730.5 424.9,728.7" fill="#7c317a" stroke="#1a161a" stroke-width="1.1" stroke-linejoin="round"/>
<polygon points="472.5,686.3 472.5,730 468.3,729.9 464,729.6 459.9,729.2 455.7,728.6 451.6,727.8 447.7,726.9 443.8,725.8 440,724.6 436.3,723.2 432.8,721.6" fill="#773475" stroke="#1a161a" stroke-width="1.1" stroke-linejoin="round"/>
<polygon points="472.5,686.3 472.5,721.2 469.1,721.2 465.7,721 462.4,720.6 459.1,720.1 455.8,719.5 452.6,718.8 449.5,717.9 446.5,716.9 443.6,715.8 440.8,714.6" fill="#723770" stroke="#1a161a" stroke-width="1.1" stroke-linejoin="round"/>
<polygon points="472.5,686.3 472.5,712.5 470,712.5 467.4,712.3 464.9,712 462.4,711.7 460,711.2 457.6,710.7 455.3,710 453,709.3 450.8,708.4 448.7,707.5" fill="#6c3a6a" stroke="#1a161a" stroke-width="1.1" stroke-linejoin="round"/>
<polygon points="472.5,686.3 472.5,703.8 470.8,703.7 469.1,703.6 467.4,703.5 465.8,703.2 464.2,702.9 462.6,702.5 461,702.1 459.5,701.6 458,701 456.6,700.4" fill="#673e65" stroke="#1a161a" stroke-width="1.1" stroke-linejoin="round"/>
<polygon points="472.5,686.3 472.5,695 471.7,695 470.8,695 470,694.9 469.1,694.8 468.3,694.6 467.5,694.4 466.8,694.2 466,694 465.3,693.7 464.6,693.4" fill="#624160" stroke="#1a161a" stroke-width="1.1" stroke-linejoin="round"/>
<polygon points="472.5,749.1 466.4,748.9 460.3,748.6 454.3,747.9 448.4,747.1 442.5,746 436.8,744.7 431.2,743.1 425.8,741.3 420.5,739.3 415.5,737.1 415.5,760.1 420.5,762.3 425.8,764.3 431.2,766.1 436.8,767.7 442.5,769 448.4,770.1 454.3,770.9 460.3,771.6 466.4,771.9 472.5,772.1" fill="#7c2878" stroke="#1a161a" stroke-width="1.1" stroke-linejoin="round"/>
<ellipse cx="472.5" cy="686.3" rx="15" ry="10.3" fill="#514c55" stroke="#1c181c" stroke-width="0.9"/>
<polygon points="472.5,594.5 472.5,568.6 475,568.7 477.5,568.8 480,569.1 482.4,569.4 484.9,569.9 487.2,570.4 489.5,571.1 491.8,571.8 493.9,572.6 496,573.6" fill="#70a040" stroke="#9cc060" stroke-width="0.7" stroke-linejoin="round"/>
<polygon points="472.5,594.5 449,573.6 451.1,572.6 453.2,571.8 455.5,571.1 457.8,570.4 460.1,569.9 462.6,569.4 465,569.1 467.5,568.8 470,568.7 472.5,568.6" fill="#c0c030" stroke="#c4c028" stroke-width="0.7" stroke-linejoin="round"/>
<polygon points="472.5,594.5 496,573.6 498,574.6 499.9,575.6 501.7,576.8 503.3,578 504.9,579.3 506.3,580.6 507.6,582 508.7,583.5 509.7,585 510.5,586.5" fill="#109060" stroke="#3aa888" stroke-width="0.7" stroke-linejoin="round"/>
<polygon points="472.5,594.5 415.4,582.5 416.7,580.2 418.2,578 419.9,575.8 421.8,573.7 424,571.7 426.3,569.8 428.8,567.9 431.4,566.2 434.3,564.6 437.2,563.1" fill="#e07830" stroke="#d8863c" stroke-width="0.7" stroke-linejoin="round"/>
<polygon points="472.5,594.5 523.9,583.7 524.8,585.8 525.5,588 526.1,590.1 526.4,592.3 526.5,594.5 526.4,596.7 526.1,598.9 525.5,601 524.8,603.2 523.9,605.3" fill="#0890a0" stroke="#30a8a0" stroke-width="0.7" stroke-linejoin="round"/>
<polygon points="526.5,594.5 526.4,596.7 526.1,598.9 525.5,601 524.8,603.2 523.9,605.3 523.9,628.3 524.8,626.2 525.5,624 526.1,621.9 526.4,619.7 526.5,617.5" fill="#089098" stroke="#30a8a0" stroke-width="0.7" stroke-linejoin="round"/>
<polygon points="472.5,594.5 384.1,613.1 382.4,609.5 381.1,605.8 380.2,602 379.7,598.3 379.5,594.5 379.7,590.7 380.2,587 381.1,583.2 382.4,579.5 384.1,575.9" fill="#f04444" stroke="#e05a6a" stroke-width="0.7" stroke-linejoin="round"/>
<polygon points="395.5,610.7 384.1,613.1 384.1,636.1 395.5,633.7" fill="#ee3c3c" stroke="#e05a6a" stroke-width="0.7" stroke-linejoin="round"/>
<polygon points="384.1,613.1 382.4,609.5 381.1,605.8 380.2,602 379.7,598.3 379.5,594.5 379.5,617.5 379.7,621.3 380.2,625 381.1,628.8 382.4,632.5 384.1,636.1" fill="#ee3c3c" stroke="#e05a6a" stroke-width="0.7" stroke-linejoin="round"/>
<polygon points="472.5,594.5 525.8,605.7 524.6,607.8 523.2,609.9 521.6,612 519.8,613.9 517.8,615.8 515.6,617.6 513.3,619.3 510.8,620.9 508.2,622.4 505.4,623.8" fill="#3c5cb4" stroke="#5a78c8" stroke-width="0.7" stroke-linejoin="round"/>
<polygon points="525.8,605.7 524.6,607.8 523.2,609.9 521.6,612 519.8,613.9 517.8,615.8 515.6,617.6 513.3,619.3 510.8,620.9 508.2,622.4 505.4,623.8 505.4,646.8 508.2,645.4 510.8,643.9 513.3,642.3 515.6,640.6 517.8,638.8 519.8,636.9 521.6,635 523.2,632.9 524.6,630.8 525.8,628.7" fill="#3858b0" stroke="#5a78c8" stroke-width="0.7" stroke-linejoin="round"/>
<polygon points="472.5,594.5 424.9,636.9 420.9,634.9 417.1,632.7 413.5,630.4 410.1,627.9 407,625.3 404.1,622.6 401.5,619.7 399.2,616.8 397.2,613.8 395.5,610.7" fill="#e43c88" stroke="#e2448e" stroke-width="0.7" stroke-linejoin="round"/>
<polygon points="428.4,633.8 424.9,636.9 424.9,659.9 428.4,656.8" fill="#e03880" stroke="#e2448e" stroke-width="0.7" stroke-linejoin="round"/>
<polygon points="424.9,636.9 420.9,634.9 417.1,632.7 413.5,630.4 410.1,627.9 407,625.3 404.1,622.6 401.5,619.7 399.2,616.8 397.2,613.8 395.5,610.7 395.5,633.7 397.2,636.8 399.2,639.8 401.5,642.7 404.1,645.6 407,648.3 410.1,650.9 413.5,653.4 417.1,655.7 420.9,657.9 424.9,659.9" fill="#e03880" stroke="#e2448e" stroke-width="0.7" stroke-linejoin="round"/>
<polygon points="472.5,594.5 516.6,633.8 512.7,635.5 508.6,637 504.4,638.4 500.1,639.6 495.7,640.7 491.2,641.5 486.6,642.2 481.9,642.6 477.2,642.9 472.5,643" fill="#6c48a4" stroke="#7a5ab0" stroke-width="0.7" stroke-linejoin="round"/>
<polygon points="516.6,633.8 512.7,635.5 508.6,637 504.4,638.4 500.1,639.6 495.7,640.7 491.2,641.5 486.6,642.2 481.9,642.6 477.2,642.9 472.5,643 472.5,666 477.2,665.9 481.9,665.6 486.6,665.2 491.2,664.5 495.7,663.7 500.1,662.6 504.4,661.4 508.6,660 512.7,658.5 516.6,656.8" fill="#6c48a4" stroke="#7a5ab0" stroke-width="0.7" stroke-linejoin="round"/>
<polygon points="472.5,594.5 472.5,643 467.8,642.9 463.1,642.6 458.4,642.2 453.8,641.5 449.3,640.7 444.9,639.6 440.6,638.4 436.4,637 432.3,635.5 428.4,633.8" fill="#8848a0" stroke="#9a48a8" stroke-width="0.7" stroke-linejoin="round"/>
<polygon points="472.5,643 467.8,642.9 463.1,642.6 458.4,642.2 453.8,641.5 449.3,640.7 444.9,639.6 440.6,638.4 436.4,637 432.3,635.5 428.4,633.8 428.4,656.8 432.3,658.5 436.4,660 440.6,661.4 444.9,662.6 449.3,663.7 453.8,664.5 458.4,665.2 463.1,665.6 467.8,665.9 472.5,666" fill="#8c48a4" stroke="#9a48a8" stroke-width="0.7" stroke-linejoin="round"/>
<polygon points="472.5,571.5 472.5,536.6 475.9,536.6 479.3,536.8 482.6,537.2 485.9,537.7 489.2,538.3 492.4,539 495.5,539.9 498.5,540.9 501.4,542 504.2,543.2" fill="#80b848" stroke="#9cc060" stroke-width="0.7" stroke-linejoin="round"/>
<polygon points="472.5,571.5 440.8,543.2 443.6,542 446.5,540.9 449.5,539.9 452.6,539 455.8,538.3 459.1,537.7 462.4,537.2 465.7,536.8 469.1,536.6 472.5,536.6" fill="#d8d030" stroke="#c4c028" stroke-width="0.7" stroke-linejoin="round"/>
<polygon points="472.5,571.5 504.2,543.2 506.9,544.6 509.5,546 511.9,547.6 514.1,549.2 516.2,551 518.1,552.8 519.8,554.7 521.4,556.6 522.7,558.6 523.9,560.7" fill="#10a060" stroke="#3aa888" stroke-width="0.7" stroke-linejoin="round"/>
<polygon points="472.5,571.5 382.6,552.6 384.6,549 387,545.5 389.7,542 392.7,538.7 396,535.6 399.7,532.5 403.6,529.6 407.8,526.9 412.3,524.4 417,522" fill="#f4903c" stroke="#d8863c" stroke-width="0.7" stroke-linejoin="round"/>
<polygon points="395.5,555.3 382.6,552.6 382.6,575.6 395.5,578.3" fill="#f48c3c" stroke="#d8863c" stroke-width="0.7" stroke-linejoin="round"/>
<polygon points="472.5,571.5 533.4,558.7 534.5,561.2 535.4,563.7 536,566.3 536.4,568.9 536.5,571.5 536.4,574.1 536,576.7 535.4,579.3 534.5,581.8 533.4,584.3" fill="#10a858" stroke="#30a8a0" stroke-width="0.7" stroke-linejoin="round"/>
<polygon points="525.8,582.7 533.4,584.3 533.4,607.3 525.8,605.7" fill="#0ca050" stroke="#30a8a0" stroke-width="0.7" stroke-linejoin="round"/>
<polygon points="536.5,571.5 536.4,574.1 536,576.7 535.4,579.3 534.5,581.8 533.4,584.3 533.4,607.3 534.5,604.8 535.4,602.3 536,599.7 536.4,597.1 536.5,594.5" fill="#0ca050" stroke="#30a8a0" stroke-width="0.7" stroke-linejoin="round"/>
<polygon points="472.5,571.5 395.5,587.7 394,584.5 392.9,581.3 392.1,578.1 391.7,574.8 391.5,571.5 391.7,568.2 392.1,564.9 392.9,561.7 394,558.5 395.5,555.3" fill="#f06060" stroke="#e05a6a" stroke-width="0.7" stroke-linejoin="round"/>
<polygon points="395.5,587.7 394,584.5 392.9,581.3 392.1,578.1 391.7,574.8 391.5,571.5 391.5,594.5 391.7,597.8 392.1,601.1 392.9,604.3 394,607.5 395.5,610.7" fill="#ec5858" stroke="#e05a6a" stroke-width="0.7" stroke-linejoin="round"/>
<polygon points="472.5,571.5 525.8,582.7 524.6,584.8 523.2,586.9 521.6,589 519.8,590.9 517.8,592.8 515.6,594.6 513.3,596.3 510.8,597.9 508.2,599.4 505.4,600.8" fill="#0c94dc" stroke="#5a78c8" stroke-width="0.7" stroke-linejoin="round"/>
<polygon points="525.8,582.7 524.6,584.8 523.2,586.9 521.6,589 519.8,590.9 517.8,592.8 515.6,594.6 513.3,596.3 510.8,597.9 508.2,599.4 505.4,600.8 505.4,623.8 508.2,622.4 510.8,620.9 513.3,619.3 515.6,617.6 517.8,615.8 519.8,613.9 521.6,612 523.2,609.9 524.6,607.8 525.8,605.7" fill="#0890d8" stroke="#5a78c8" stroke-width="0.7" stroke-linejoin="round"/>
<polygon points="472.5,571.5 424.9,613.9 420.9,611.9 417.1,609.7 413.5,607.4 410.1,604.9 407,602.3 404.1,599.6 401.5,596.7 399.2,593.8 397.2,590.8 395.5,587.7" fill="#f040a0" stroke="#e2448e" stroke-width="0.7" stroke-linejoin="round"/>
<polygon points="432.8,606.8 424.9,613.9 424.9,636.9 432.8,629.8" fill="#f03c98" stroke="#e2448e" stroke-width="0.7" stroke-linejoin="round"/>
<polygon points="424.9,613.9 420.9,611.9 417.1,609.7 413.5,607.4 410.1,604.9 407,602.3 404.1,599.6 401.5,596.7 399.2,593.8 397.2,590.8 395.5,587.7 395.5,610.7 397.2,613.8 399.2,616.8 401.5,619.7 404.1,622.6 407,625.3 410.1,627.9 413.5,630.4 417.1,632.7 420.9,634.9 424.9,636.9" fill="#f03c98" stroke="#e2448e" stroke-width="0.7" stroke-linejoin="round"/>
<polygon points="472.5,571.5 512.2,606.8 508.7,608.4 505,609.8 501.2,611 497.3,612.1 493.4,613 489.3,613.8 485.1,614.4 481,614.8 476.7,615.1 472.5,615.2" fill="#7868b4" stroke="#7a5ab0" stroke-width="0.7" stroke-linejoin="round"/>
<polygon points="512.2,606.8 508.7,608.4 505,609.8 501.2,611 497.3,612.1 493.4,613 489.3,613.8 485.1,614.4 481,614.8 476.7,615.1 472.5,615.2 472.5,638.2 476.7,638.1 481,637.8 485.1,637.4 489.3,636.8 493.4,636 497.3,635.1 501.2,634 505,632.8 508.7,631.4 512.2,629.8" fill="#7c70b8" stroke="#7a5ab0" stroke-width="0.7" stroke-linejoin="round"/>
<polygon points="472.5,571.5 472.5,615.2 468.3,615.1 464,614.8 459.9,614.4 455.7,613.8 451.6,613 447.7,612.1 443.8,611 440,609.8 436.3,608.4 432.8,606.8" fill="#9858a4" stroke="#9a48a8" stroke-width="0.7" stroke-linejoin="round"/>
<polygon points="472.5,615.2 468.3,615.1 464,614.8 459.9,614.4 455.7,613.8 451.6,613 447.7,612.1 443.8,611 440,609.8 436.3,608.4 432.8,606.8 432.8,629.8 436.3,631.4 440,632.8 443.8,634 447.7,635.1 451.6,636 455.7,636.8 459.9,637.4 464,637.8 468.3,638.1 472.5,638.2" fill="#a45ca8" stroke="#9a48a8" stroke-width="0.7" stroke-linejoin="round"/>
<polygon points="472.5,548.5 472.5,513.6 475.9,513.6 479.3,513.8 482.6,514.2 485.9,514.7 489.2,515.3 492.4,516 495.5,516.9 498.5,517.9 501.4,519 504.2,520.2" fill="#a0d070" stroke="#9cc060" stroke-width="0.7" stroke-linejoin="round"/>
<polygon points="472.5,548.5 472.5,522.3 475,522.3 477.6,522.5 480.1,522.8 482.6,523.1 485,523.6 487.4,524.1 489.7,524.8 492,525.5 494.2,526.4 496.3,527.3" fill="#a0d070" stroke="#9cc060" stroke-width="0.7" stroke-linejoin="round"/>
<polygon points="472.5,548.5 472.5,531 474.2,531.1 475.9,531.2 477.6,531.3 479.2,531.6 480.8,531.9 482.4,532.3 484,532.7 485.5,533.2 487,533.8 488.4,534.4" fill="#a0d070" stroke="#9cc060" stroke-width="0.7" stroke-linejoin="round"/>
<polygon points="472.5,548.5 472.5,539.8 473.3,539.8 474.2,539.8 475,539.9 475.9,540 476.7,540.2 477.5,540.4 478.2,540.6 479,540.8 479.7,541.1 480.4,541.4" fill="#a0d070" stroke="#9cc060" stroke-width="0.7" stroke-linejoin="round"/>
<polygon points="472.5,548.5 432.8,513.2 436.3,511.6 440,510.2 443.8,509 447.7,507.9 451.6,507 455.7,506.2 459.9,505.6 464,505.2 468.3,504.9 472.5,504.8" fill="#e0e050" stroke="#c4c028" stroke-width="0.7" stroke-linejoin="round"/>
<polygon points="472.5,548.5 440.8,520.2 443.6,519 446.5,517.9 449.5,516.9 452.6,516 455.8,515.3 459.1,514.7 462.4,514.2 465.7,513.8 469.1,513.6 472.5,513.6" fill="#e0e050" stroke="#c4c028" stroke-width="0.7" stroke-linejoin="round"/>
<polygon points="472.5,548.5 448.7,527.3 450.8,526.4 453,525.5 455.3,524.8 457.6,524.1 460,523.6 462.4,523.1 464.9,522.8 467.4,522.5 470,522.3 472.5,522.3" fill="#e0e050" stroke="#c4c028" stroke-width="0.7" stroke-linejoin="round"/>
<polygon points="472.5,548.5 456.6,534.4 458,533.8 459.5,533.2 461,532.7 462.6,532.3 464.2,531.9 465.8,531.6 467.4,531.3 469.1,531.2 470.8,531.1 472.5,531" fill="#e0e050" stroke="#c4c028" stroke-width="0.7" stroke-linejoin="round"/>
<polygon points="472.5,548.5 464.6,541.4 465.3,541.1 466,540.8 466.8,540.6 467.5,540.4 468.3,540.2 469.1,540 470,539.9 470.8,539.8 471.7,539.8 472.5,539.8" fill="#e0e050" stroke="#c4c028" stroke-width="0.7" stroke-linejoin="round"/>
<polygon points="472.5,548.5 504.2,520.2 506.9,521.6 509.5,523 511.9,524.6 514.1,526.2 516.2,528 518.1,529.8 519.8,531.7 521.4,533.6 522.7,535.6 523.9,537.7" fill="#30b890" stroke="#3aa888" stroke-width="0.7" stroke-linejoin="round"/>
<polygon points="472.5,548.5 496.3,527.3 498.3,528.3 500.2,529.4 502,530.6 503.7,531.8 505.3,533.1 506.7,534.5 508,535.9 509.1,537.3 510.2,538.9 511,540.4" fill="#30b890" stroke="#3aa888" stroke-width="0.7" stroke-linejoin="round"/>
<polygon points="472.5,548.5 488.4,534.4 489.7,535 491,535.8 492.2,536.5 493.3,537.4 494.3,538.2 495.3,539.1 496.2,540.1 496.9,541.1 497.6,542.1 498.2,543.1" fill="#30b890" stroke="#3aa888" stroke-width="0.7" stroke-linejoin="round"/>
<polygon points="472.5,548.5 480.4,541.4 481.1,541.8 481.7,542.1 482.3,542.5 482.9,542.9 483.4,543.4 483.9,543.8 484.3,544.3 484.7,544.8 485.1,545.3 485.3,545.8" fill="#30b890" stroke="#3aa888" stroke-width="0.7" stroke-linejoin="round"/>
<polygon points="511,540.4 523.9,537.7 523.9,560.7 511,563.4" fill="#08b080" stroke="#3aa888" stroke-width="0.7" stroke-linejoin="round"/>
<polygon points="472.5,548.5 395.5,532.3 397.2,529.2 399.2,526.2 401.5,523.3 404.1,520.4 407,517.7 410.1,515.1 413.5,512.6 417.1,510.3 420.9,508.1 424.9,506.1" fill="#f8ac74" stroke="#d8863c" stroke-width="0.7" stroke-linejoin="round"/>
<polygon points="472.5,548.5 408.3,535 409.7,532.4 411.4,529.9 413.3,527.5 415.5,525.1 417.9,522.8 420.5,520.7 423.3,518.6 426.3,516.7 429.5,514.8 432.8,513.2" fill="#f8ac74" stroke="#d8863c" stroke-width="0.7" stroke-linejoin="round"/>
<polygon points="472.5,548.5 421.1,537.7 422.3,535.6 423.6,533.6 425.2,531.7 426.9,529.8 428.8,528 430.9,526.2 433.1,524.6 435.5,523 438.1,521.6 440.8,520.2" fill="#f8ac74" stroke="#d8863c" stroke-width="0.7" stroke-linejoin="round"/>
<polygon points="472.5,548.5 434,540.4 434.8,538.9 435.9,537.3 437,535.9 438.3,534.5 439.7,533.1 441.3,531.8 443,530.6 444.8,529.4 446.7,528.3 448.7,527.3" fill="#f8ac74" stroke="#d8863c" stroke-width="0.7" stroke-linejoin="round"/>
<polygon points="472.5,548.5 446.8,543.1 447.4,542.1 448.1,541.1 448.8,540.1 449.7,539.1 450.7,538.2 451.7,537.4 452.8,536.5 454,535.8 455.3,535 456.6,534.4" fill="#f8ac74" stroke="#d8863c" stroke-width="0.7" stroke-linejoin="round"/>
<polygon points="472.5,548.5 459.7,545.8 459.9,545.3 460.3,544.8 460.7,544.3 461.1,543.8 461.6,543.4 462.1,542.9 462.7,542.5 463.3,542.1 463.9,541.8 464.6,541.4" fill="#f8ac74" stroke="#d8863c" stroke-width="0.7" stroke-linejoin="round"/>
<polygon points="408.3,535 395.5,532.3 395.5,555.3 408.3,558" fill="#f7a868" stroke="#d8863c" stroke-width="0.7" stroke-linejoin="round"/>
<polygon points="472.5,548.5 511,540.4 511.7,542 512.3,543.6 512.7,545.2 512.9,546.9 513,548.5 512.9,550.1 512.7,551.8 512.3,553.4 511.7,555 511,556.6" fill="#30b8a0" stroke="#30a8a0" stroke-width="0.7" stroke-linejoin="round"/>
<polygon points="472.5,548.5 498.2,543.1 498.7,544.2 499,545.2 499.3,546.3 499.4,547.4 499.5,548.5 499.4,549.6 499.3,550.7 499,551.8 498.7,552.8 498.2,553.9" fill="#30b8a0" stroke="#30a8a0" stroke-width="0.7" stroke-linejoin="round"/>
<polygon points="472.5,548.5 485.3,545.8 485.6,546.3 485.8,546.9 485.9,547.4 486,548 486,548.5 486,549 485.9,549.6 485.8,550.1 485.6,550.7 485.3,551.2" fill="#30b8a0" stroke="#30a8a0" stroke-width="0.7" stroke-linejoin="round"/>
<polygon points="513,548.5 512.9,550.1 512.7,551.8 512.3,553.4 511.7,555 511,556.6 511,579.6 511.7,578 512.3,576.4 512.7,574.8 512.9,573.1 513,571.5" fill="#2ca993" stroke="#30a8a0" stroke-width="0.7" stroke-linejoin="round"/>
<polygon points="472.5,548.5 408.3,562 407.1,559.4 406.2,556.7 405.5,554 405.1,551.2 405,548.5 405.1,545.8 405.5,543 406.2,540.3 407.1,537.6 408.3,535" fill="#f48484" stroke="#e05a6a" stroke-width="0.7" stroke-linejoin="round"/>
<polygon points="472.5,548.5 421.1,559.3 420.2,557.2 419.5,555 418.9,552.9 418.6,550.7 418.5,548.5 418.6,546.3 418.9,544.1 419.5,542 420.2,539.8 421.1,537.7" fill="#f48484" stroke="#e05a6a" stroke-width="0.7" stroke-linejoin="round"/>
<polygon points="472.5,548.5 434,556.6 433.3,555 432.7,553.4 432.3,551.8 432.1,550.1 432,548.5 432.1,546.9 432.3,545.2 432.7,543.6 433.3,542 434,540.4" fill="#f48484" stroke="#e05a6a" stroke-width="0.7" stroke-linejoin="round"/>
<polygon points="472.5,548.5 446.8,553.9 446.3,552.8 446,551.8 445.7,550.7 445.6,549.6 445.5,548.5 445.6,547.4 445.7,546.3 446,545.2 446.3,544.2 446.8,543.1" fill="#f48484" stroke="#e05a6a" stroke-width="0.7" stroke-linejoin="round"/>
<polygon points="472.5,548.5 459.7,551.2 459.4,550.7 459.2,550.1 459.1,549.6 459,549 459,548.5 459,548 459.1,547.4 459.2,546.9 459.4,546.3 459.7,545.8" fill="#f48484" stroke="#e05a6a" stroke-width="0.7" stroke-linejoin="round"/>
<polygon points="408.3,562 407.1,559.4 406.2,556.7 405.5,554 405.1,551.2 405,548.5 405,571.5 405.1,574.2 405.5,577 406.2,579.7 407.1,582.4 408.3,585" fill="#f07c7c" stroke="#e05a6a" stroke-width="0.7" stroke-linejoin="round"/>
<polygon points="472.5,548.5 523.9,559.3 522.7,561.4 521.4,563.4 519.8,565.3 518.1,567.2 516.2,569 514.1,570.8 511.9,572.4 509.5,574 506.9,575.4 504.2,576.8" fill="#20b4ec" stroke="#5a78c8" stroke-width="0.7" stroke-linejoin="round"/>
<polygon points="472.5,548.5 511,556.6 510.2,558.1 509.1,559.7 508,561.1 506.7,562.5 505.3,563.9 503.7,565.2 502,566.4 500.2,567.6 498.3,568.7 496.3,569.7" fill="#20b4ec" stroke="#5a78c8" stroke-width="0.7" stroke-linejoin="round"/>
<polygon points="472.5,548.5 498.2,553.9 497.6,554.9 496.9,555.9 496.2,556.9 495.3,557.9 494.3,558.8 493.3,559.6 492.2,560.5 491,561.2 489.7,562 488.4,562.6" fill="#20b4ec" stroke="#5a78c8" stroke-width="0.7" stroke-linejoin="round"/>
<polygon points="472.5,548.5 485.3,551.2 485.1,551.7 484.7,552.2 484.3,552.7 483.9,553.2 483.4,553.6 482.9,554.1 482.3,554.5 481.7,554.9 481.1,555.2 480.4,555.6" fill="#20b4ec" stroke="#5a78c8" stroke-width="0.7" stroke-linejoin="round"/>
<polygon points="523.9,559.3 522.7,561.4 521.4,563.4 519.8,565.3 518.1,567.2 516.2,569 514.1,570.8 511.9,572.4 509.5,574 506.9,575.4 504.2,576.8 504.2,599.8 506.9,598.4 509.5,597 511.9,595.4 514.1,593.8 516.2,592 518.1,590.2 519.8,588.3 521.4,586.4 522.7,584.4 523.9,582.3" fill="#18b0e8" stroke="#5a78c8" stroke-width="0.7" stroke-linejoin="round"/>
<polygon points="472.5,548.5 432.8,583.8 429.5,582.2 426.3,580.3 423.3,578.4 420.5,576.3 417.9,574.2 415.5,571.9 413.3,569.5 411.4,567.1 409.7,564.6 408.3,562" fill="#f080b4" stroke="#e2448e" stroke-width="0.7" stroke-linejoin="round"/>
<polygon points="472.5,548.5 440.8,576.8 438.1,575.4 435.5,574 433.1,572.4 430.9,570.8 428.8,569 426.9,567.2 425.2,565.3 423.6,563.4 422.3,561.4 421.1,559.3" fill="#f080b4" stroke="#e2448e" stroke-width="0.7" stroke-linejoin="round"/>
<polygon points="472.5,548.5 448.7,569.7 446.7,568.7 444.8,567.6 443,566.4 441.3,565.2 439.7,563.9 438.3,562.5 437,561.1 435.9,559.7 434.8,558.1 434,556.6" fill="#f080b4" stroke="#e2448e" stroke-width="0.7" stroke-linejoin="round"/>
<polygon points="472.5,548.5 456.6,562.6 455.3,562 454,561.2 452.8,560.5 451.7,559.6 450.7,558.8 449.7,557.9 448.8,556.9 448.1,555.9 447.4,554.9 446.8,553.9" fill="#f080b4" stroke="#e2448e" stroke-width="0.7" stroke-linejoin="round"/>
<polygon points="472.5,548.5 464.6,555.6 463.9,555.2 463.3,554.9 462.7,554.5 462.1,554.1 461.6,553.6 461.1,553.2 460.7,552.7 460.3,552.2 459.9,551.7 459.7,551.2" fill="#f080b4" stroke="#e2448e" stroke-width="0.7" stroke-linejoin="round"/>
<polygon points="440.8,576.8 432.8,583.8 432.8,606.8 440.8,599.8" fill="#f078b0" stroke="#e2448e" stroke-width="0.7" stroke-linejoin="round"/>
<polygon points="432.8,583.8 429.5,582.2 426.3,580.3 423.3,578.4 420.5,576.3 417.9,574.2 415.5,571.9 413.3,569.5 411.4,567.1 409.7,564.6 408.3,562 408.3,585 409.7,587.6 411.4,590.1 413.3,592.5 415.5,594.9 417.9,597.2 420.5,599.3 423.3,601.4 426.3,603.3 429.5,605.2 432.8,606.8" fill="#f078b0" stroke="#e2448e" stroke-width="0.7" stroke-linejoin="round"/>
<polygon points="472.5,548.5 504.2,576.8 501.4,578 498.5,579.1 495.5,580.1 492.4,581 489.2,581.7 485.9,582.3 482.6,582.8 479.3,583.2 475.9,583.4 472.5,583.4" fill="#a898d0" stroke="#7a5ab0" stroke-width="0.7" stroke-linejoin="round"/>
<polygon points="472.5,548.5 496.3,569.7 494.2,570.6 492,571.5 489.7,572.2 487.4,572.9 485,573.4 482.6,573.9 480.1,574.2 477.6,574.5 475,574.7 472.5,574.7" fill="#a898d0" stroke="#7a5ab0" stroke-width="0.7" stroke-linejoin="round"/>
<polygon points="472.5,548.5 488.4,562.6 487,563.2 485.5,563.8 484,564.3 482.4,564.7 480.8,565.1 479.2,565.4 477.6,565.7 475.9,565.8 474.2,565.9 472.5,566" fill="#a898d0" stroke="#7a5ab0" stroke-width="0.7" stroke-linejoin="round"/>
<polygon points="472.5,548.5 480.4,555.6 479.7,555.9 479,556.2 478.2,556.4 477.5,556.6 476.7,556.8 475.9,557 475,557.1 474.2,557.2 473.3,557.2 472.5,557.2" fill="#a898d0" stroke="#7a5ab0" stroke-width="0.7" stroke-linejoin="round"/>
<polygon points="504.2,576.8 501.4,578 498.5,579.1 495.5,580.1 492.4,581 489.2,581.7 485.9,582.3 482.6,582.8 479.3,583.2 475.9,583.4 472.5,583.4 472.5,606.4 475.9,606.4 479.3,606.2 482.6,605.8 485.9,605.3 489.2,604.7 492.4,604 495.5,603.1 498.5,602.1 501.4,601 504.2,599.8" fill="#a890cc" stroke="#7a5ab0" stroke-width="0.7" stroke-linejoin="round"/>
<polygon points="472.5,548.5 472.5,583.4 469.1,583.4 465.7,583.2 462.4,582.8 459.1,582.3 455.8,581.7 452.6,581 449.5,580.1 446.5,579.1 443.6,578 440.8,576.8" fill="#c48cc0" stroke="#9a48a8" stroke-width="0.7" stroke-linejoin="round"/>
<polygon points="472.5,548.5 472.5,574.7 470,574.7 467.4,574.5 464.9,574.2 462.4,573.9 460,573.4 457.6,572.9 455.3,572.2 453,571.5 450.8,570.6 448.7,569.7" fill="#c48cc0" stroke="#9a48a8" stroke-width="0.7" stroke-linejoin="round"/>
<polygon points="472.5,548.5 472.5,566 470.8,565.9 469.1,565.8 467.4,565.7 465.8,565.4 464.2,565.1 462.6,564.7 461,564.3 459.5,563.8 458,563.2 456.6,562.6" fill="#c48cc0" stroke="#9a48a8" stroke-width="0.7" stroke-linejoin="round"/>
<polygon points="472.5,548.5 472.5,557.2 471.7,557.2 470.8,557.2 470,557.1 469.1,557 468.3,556.8 467.5,556.6 466.8,556.4 466,556.2 465.3,555.9 464.6,555.6" fill="#c48cc0" stroke="#9a48a8" stroke-width="0.7" stroke-linejoin="round"/>
<polygon points="472.5,583.4 469.1,583.4 465.7,583.2 462.4,582.8 459.1,582.3 455.8,581.7 452.6,581 449.5,580.1 446.5,579.1 443.6,578 440.8,576.8 440.8,599.8 443.6,601 446.5,602.1 449.5,603.1 452.6,604 455.8,604.7 459.1,605.3 462.4,605.8 465.7,606.2 469.1,606.4 472.5,606.4" fill="#cc8cc0" stroke="#9a48a8" stroke-width="0.7" stroke-linejoin="round"/>
<polygon points="472.5,526 472.5,482.3 476.7,482.4 481,482.7 485.1,483.1 489.3,483.7 493.4,484.5 497.3,485.4 501.2,486.5 505,487.7 508.7,489.1 512.2,490.7" fill="#badc8e" stroke="#9cc060" stroke-width="0.7" stroke-linejoin="round"/>
<polygon points="472.5,526 472.5,491.1 475.9,491.1 479.3,491.3 482.6,491.7 485.9,492.2 489.2,492.8 492.4,493.5 495.5,494.4 498.5,495.4 501.4,496.5 504.2,497.7" fill="#c0df98" stroke="#9cc060" stroke-width="0.7" stroke-linejoin="round"/>
<polygon points="472.5,526 472.5,499.8 475,499.8 477.6,500 480.1,500.3 482.6,500.6 485,501.1 487.4,501.6 489.7,502.3 492,503 494.2,503.9 496.3,504.8" fill="#c6e2a2" stroke="#9cc060" stroke-width="0.7" stroke-linejoin="round"/>
<polygon points="472.5,526 472.5,508.5 474.2,508.6 475.9,508.7 477.6,508.8 479.2,509.1 480.8,509.4 482.4,509.8 484,510.2 485.5,510.7 487,511.3 488.4,511.9" fill="#cde5ad" stroke="#9cc060" stroke-width="0.7" stroke-linejoin="round"/>
<polygon points="472.5,526 472.5,517.3 473.3,517.3 474.2,517.3 475,517.4 475.9,517.5 476.7,517.7 477.5,517.9 478.2,518.1 479,518.3 479.7,518.6 480.4,518.9" fill="#d3e9b7" stroke="#9cc060" stroke-width="0.7" stroke-linejoin="round"/>
<polygon points="504.2,497.7 512.2,490.7 512.2,513.2 504.2,520.2" fill="#b4d888" stroke="#9cc060" stroke-width="0.7" stroke-linejoin="round"/>
<polygon points="472.5,526 417,476.5 421.9,474.4 427,472.4 432.3,470.7 437.7,469.2 443.3,467.9 449,466.8 454.8,465.9 460.7,465.3 466.6,465 472.5,464.9" fill="#e4e84a" stroke="#c4c028" stroke-width="0.7" stroke-linejoin="round"/>
<polygon points="472.5,526 424.9,483.6 429.1,481.8 433.5,480.1 438,478.6 442.7,477.3 447.5,476.2 452.4,475.2 457.3,474.5 462.3,474 467.4,473.7 472.5,473.6" fill="#e6e956" stroke="#c4c028" stroke-width="0.7" stroke-linejoin="round"/>
<polygon points="472.5,526 432.8,490.7 436.3,489.1 440,487.7 443.8,486.5 447.7,485.4 451.6,484.5 455.7,483.7 459.9,483.1 464,482.7 468.3,482.4 472.5,482.3" fill="#e7eb61" stroke="#c4c028" stroke-width="0.7" stroke-linejoin="round"/>
<polygon points="472.5,526 440.8,497.7 443.6,496.5 446.5,495.4 449.5,494.4 452.6,493.5 455.8,492.8 459.1,492.2 462.4,491.7 465.7,491.3 469.1,491.1 472.5,491.1" fill="#e9ec6d" stroke="#c4c028" stroke-width="0.7" stroke-linejoin="round"/>
<polygon points="472.5,526 448.7,504.8 450.8,503.9 453,503 455.3,502.3 457.6,501.6 460,501.1 462.4,500.6 464.9,500.3 467.4,500 470,499.8 472.5,499.8" fill="#ebee79" stroke="#c4c028" stroke-width="0.7" stroke-linejoin="round"/>
<polygon points="472.5,526 456.6,511.9 458,511.3 459.5,510.7 461,510.2 462.6,509.8 464.2,509.4 465.8,509.1 467.4,508.8 469.1,508.7 470.8,508.6 472.5,508.5" fill="#edef84" stroke="#c4c028" stroke-width="0.7" stroke-linejoin="round"/>
<polygon points="472.5,526 464.6,518.9 465.3,518.6 466,518.3 466.8,518.1 467.5,517.9 468.3,517.7 469.1,517.5 470,517.4 470.8,517.3 471.7,517.3 472.5,517.3" fill="#eef190" stroke="#c4c028" stroke-width="0.7" stroke-linejoin="round"/>
<polygon points="448.7,504.8 440.8,497.7 440.8,520.2 448.7,527.3" fill="#ebeb5a" stroke="#c4c028" stroke-width="0.7" stroke-linejoin="round"/>
<polygon points="440.8,497.7 432.8,490.7 432.8,513.2 440.8,520.2" fill="#e9e94c" stroke="#c4c028" stroke-width="0.7" stroke-linejoin="round"/>
<polygon points="432.8,490.7 424.9,483.6 424.9,506.1 432.8,513.2" fill="#e8e83f" stroke="#c4c028" stroke-width="0.7" stroke-linejoin="round"/>
<polygon points="424.9,483.6 417,476.5 417,499 424.9,506.1" fill="#e6e632" stroke="#c4c028" stroke-width="0.7" stroke-linejoin="round"/>
<polygon points="472.5,526 504.2,497.7 506.9,499.1 509.5,500.5 511.9,502.1 514.1,503.7 516.2,505.5 518.1,507.3 519.8,509.2 521.4,511.1 522.7,513.1 523.9,515.2" fill="#76c8a8" stroke="#3aa888" stroke-width="0.7" stroke-linejoin="round"/>
<polygon points="472.5,526 496.3,504.8 498.3,505.8 500.2,506.9 502,508.1 503.7,509.3 505.3,510.6 506.7,512 508,513.4 509.1,514.8 510.2,516.4 511,517.9" fill="#85ceb2" stroke="#3aa888" stroke-width="0.7" stroke-linejoin="round"/>
<polygon points="472.5,526 488.4,511.9 489.7,512.5 491,513.3 492.2,514 493.3,514.9 494.3,515.7 495.3,516.6 496.2,517.6 496.9,518.6 497.6,519.6 498.2,520.6" fill="#95d4bc" stroke="#3aa888" stroke-width="0.7" stroke-linejoin="round"/>
<polygon points="472.5,526 480.4,518.9 481.1,519.3 481.7,519.6 482.3,520 482.9,520.4 483.4,520.9 483.9,521.3 484.3,521.8 484.7,522.3 485.1,522.8 485.3,523.3" fill="#a4dbc5" stroke="#3aa888" stroke-width="0.7" stroke-linejoin="round"/>
<polygon points="511,517.9 523.9,515.2 523.9,537.7 511,540.4" fill="#70c4a4" stroke="#3aa888" stroke-width="0.7" stroke-linejoin="round"/>
<polygon points="472.5,526 434,517.9 434.8,516.4 435.9,514.8 437,513.4 438.3,512 439.7,510.6 441.3,509.3 443,508.1 444.8,506.9 446.7,505.8 448.7,504.8" fill="#fcd09c" stroke="#d8863c" stroke-width="0.7" stroke-linejoin="round"/>
<polygon points="472.5,526 446.8,520.6 447.4,519.6 448.1,518.6 448.8,517.6 449.7,516.6 450.7,515.7 451.7,514.9 452.8,514 454,513.3 455.3,512.5 456.6,511.9" fill="#fcd7ab" stroke="#d8863c" stroke-width="0.7" stroke-linejoin="round"/>
<polygon points="472.5,526 459.7,523.3 459.9,522.8 460.3,522.3 460.7,521.8 461.1,521.3 461.6,520.9 462.1,520.4 462.7,520 463.3,519.6 463.9,519.3 464.6,518.9" fill="#fddeba" stroke="#d8863c" stroke-width="0.7" stroke-linejoin="round"/>
<polygon points="472.5,526 511,517.9 511.7,519.5 512.3,521.1 512.7,522.7 512.9,524.4 513,526 512.9,527.6 512.7,529.3 512.3,530.9 511.7,532.5 511,534.1" fill="#84d2c6" stroke="#30a8a0" stroke-width="0.7" stroke-linejoin="round"/>
<polygon points="472.5,526 498.2,520.6 498.7,521.7 499,522.7 499.3,523.8 499.4,524.9 499.5,526 499.4,527.1 499.3,528.2 499,529.3 498.7,530.3 498.2,531.4" fill="#96d9cf" stroke="#30a8a0" stroke-width="0.7" stroke-linejoin="round"/>
<polygon points="472.5,526 485.3,523.3 485.6,523.8 485.8,524.4 485.9,524.9 486,525.5 486,526 486,526.5 485.9,527.1 485.8,527.6 485.6,528.2 485.3,528.7" fill="#a9e0d7" stroke="#30a8a0" stroke-width="0.7" stroke-linejoin="round"/>
<polygon points="513,526 512.9,527.6 512.7,529.3 512.3,530.9 511.7,532.5 511,534.1 511,556.6 511.7,555 512.3,553.4 512.7,551.8 512.9,550.1 513,548.5" fill="#7ccabc" stroke="#30a8a0" stroke-width="0.7" stroke-linejoin="round"/>
<polygon points="472.5,526 434,534.1 433.3,532.5 432.7,530.9 432.3,529.3 432.1,527.6 432,526 432.1,524.4 432.3,522.7 432.7,521.1 433.3,519.5 434,517.9" fill="#f8b0b0" stroke="#e05a6a" stroke-width="0.7" stroke-linejoin="round"/>
<polygon points="472.5,526 446.8,531.4 446.3,530.3 446,529.3 445.7,528.2 445.6,527.1 445.5,526 445.6,524.9 445.7,523.8 446,522.7 446.3,521.7 446.8,520.6" fill="#f9bcbc" stroke="#e05a6a" stroke-width="0.7" stroke-linejoin="round"/>
<polygon points="472.5,526 459.7,528.7 459.4,528.2 459.2,527.6 459.1,527.1 459,526.5 459,526 459,525.5 459.1,524.9 459.2,524.4 459.4,523.8 459.7,523.3" fill="#fac8c8" stroke="#e05a6a" stroke-width="0.7" stroke-linejoin="round"/>
<polygon points="434,534.1 433.3,532.5 432.7,530.9 432.3,529.3 432.1,527.6 432,526 432,548.5 432.1,550.1 432.3,551.8 432.7,553.4 433.3,555 434,556.6" fill="#f4a0a0" stroke="#e05a6a" stroke-width="0.7" stroke-linejoin="round"/>
<polygon points="472.5,526 511,534.1 510.2,535.6 509.1,537.2 508,538.6 506.7,540 505.3,541.4 503.7,542.7 502,543.9 500.2,545.1 498.3,546.2 496.3,547.2" fill="#a6d8f2" stroke="#5a78c8" stroke-width="0.7" stroke-linejoin="round"/>
<polygon points="472.5,526 498.2,531.4 497.6,532.4 496.9,533.4 496.2,534.4 495.3,535.4 494.3,536.3 493.3,537.1 492.2,538 491,538.7 489.7,539.5 488.4,540.1" fill="#b3def4" stroke="#5a78c8" stroke-width="0.7" stroke-linejoin="round"/>
<polygon points="472.5,526 485.3,528.7 485.1,529.2 484.7,529.7 484.3,530.2 483.9,530.7 483.4,531.1 482.9,531.6 482.3,532 481.7,532.4 481.1,532.7 480.4,533.1" fill="#c1e4f6" stroke="#5a78c8" stroke-width="0.7" stroke-linejoin="round"/>
<polygon points="488.4,540.1 496.3,547.2 496.3,569.7 488.4,562.6" fill="#9ed2f0" stroke="#5a78c8" stroke-width="0.7" stroke-linejoin="round"/>
<polygon points="511,534.1 510.2,535.6 509.1,537.2 508,538.6 506.7,540 505.3,541.4 503.7,542.7 502,543.9 500.2,545.1 498.3,546.2 496.3,547.2 496.3,569.7 498.3,568.7 500.2,567.6 502,566.4 503.7,565.2 505.3,563.9 506.7,562.5 508,561.1 509.1,559.7 510.2,558.1 511,556.6" fill="#9ed2f0" stroke="#5a78c8" stroke-width="0.7" stroke-linejoin="round"/>
<polygon points="472.5,526 440.8,554.3 438.1,552.9 435.5,551.5 433.1,549.9 430.9,548.3 428.8,546.5 426.9,544.7 425.2,542.8 423.6,540.9 422.3,538.9 421.1,536.8" fill="#f6b4d4" stroke="#e2448e" stroke-width="0.7" stroke-linejoin="round"/>
<polygon points="472.5,526 448.7,547.2 446.7,546.2 444.8,545.1 443,543.9 441.3,542.7 439.7,541.4 438.3,540 437,538.6 435.9,537.2 434.8,535.6 434,534.1" fill="#f7bcd9" stroke="#e2448e" stroke-width="0.7" stroke-linejoin="round"/>
<polygon points="472.5,526 456.6,540.1 455.3,539.5 454,538.7 452.8,538 451.7,537.1 450.7,536.3 449.7,535.4 448.8,534.4 448.1,533.4 447.4,532.4 446.8,531.4" fill="#f8c5de" stroke="#e2448e" stroke-width="0.7" stroke-linejoin="round"/>
<polygon points="472.5,526 464.6,533.1 463.9,532.7 463.3,532.4 462.7,532 462.1,531.6 461.6,531.1 461.1,530.7 460.7,530.2 460.3,529.7 459.9,529.2 459.7,528.7" fill="#f9cde3" stroke="#e2448e" stroke-width="0.7" stroke-linejoin="round"/>
<polygon points="448.7,547.2 440.8,554.3 440.8,576.8 448.7,569.7" fill="#f4b0d0" stroke="#e2448e" stroke-width="0.7" stroke-linejoin="round"/>
<polygon points="440.8,554.3 438.1,552.9 435.5,551.5 433.1,549.9 430.9,548.3 428.8,546.5 426.9,544.7 425.2,542.8 423.6,540.9 422.3,538.9 421.1,536.8 421.1,559.3 422.3,561.4 423.6,563.4 425.2,565.3 426.9,567.2 428.8,569 430.9,570.8 433.1,572.4 435.5,574 438.1,575.4 440.8,576.8" fill="#f4b0d0" stroke="#e2448e" stroke-width="0.7" stroke-linejoin="round"/>
<polygon points="472.5,526 488.4,540.1 487,540.7 485.5,541.3 484,541.8 482.4,542.2 480.8,542.6 479.2,542.9 477.6,543.2 475.9,543.3 474.2,543.4 472.5,543.5" fill="#d8d2ee" stroke="#7a5ab0" stroke-width="0.7" stroke-linejoin="round"/>
<polygon points="472.5,526 480.4,533.1 479.7,533.4 479,533.7 478.2,533.9 477.5,534.1 476.7,534.3 475.9,534.5 475,534.6 474.2,534.7 473.3,534.7 472.5,534.7" fill="#e1dcf2" stroke="#7a5ab0" stroke-width="0.7" stroke-linejoin="round"/>
<polygon points="488.4,540.1 487,540.7 485.5,541.3 484,541.8 482.4,542.2 480.8,542.6 479.2,542.9 477.6,543.2 475.9,543.3 474.2,543.4 472.5,543.5 472.5,566 474.2,565.9 475.9,565.8 477.6,565.7 479.2,565.4 480.8,565.1 482.4,564.7 484,564.3 485.5,563.8 487,563.2 488.4,562.6" fill="#d8d0ec" stroke="#7a5ab0" stroke-width="0.7" stroke-linejoin="round"/>
<polygon points="472.5,526 472.5,552.2 470,552.2 467.4,552 464.9,551.7 462.4,551.4 460,550.9 457.6,550.4 455.3,549.7 453,549 450.8,548.1 448.7,547.2" fill="#ecc4e4" stroke="#9a48a8" stroke-width="0.7" stroke-linejoin="round"/>
<polygon points="472.5,526 472.5,543.5 470.8,543.4 469.1,543.3 467.4,543.2 465.8,542.9 464.2,542.6 462.6,542.2 461,541.8 459.5,541.3 458,540.7 456.6,540.1" fill="#efcde8" stroke="#9a48a8" stroke-width="0.7" stroke-linejoin="round"/>
<polygon points="472.5,526 472.5,534.7 471.7,534.7 470.8,534.7 470,534.6 469.1,534.5 468.3,534.3 467.5,534.1 466.8,533.9 466,533.7 465.3,533.4 464.6,533.1" fill="#f2d6ec" stroke="#9a48a8" stroke-width="0.7" stroke-linejoin="round"/>
<polygon points="472.5,552.2 470,552.2 467.4,552 464.9,551.7 462.4,551.4 460,550.9 457.6,550.4 455.3,549.7 453,549 450.8,548.1 448.7,547.2 448.7,569.7 450.8,570.6 453,571.5 455.3,572.2 457.6,572.9 460,573.4 462.4,573.9 464.9,574.2 467.4,574.5 470,574.7 472.5,574.7" fill="#eebcdc" stroke="#9a48a8" stroke-width="0.7" stroke-linejoin="round"/>
<path d="M456.9 504.4V526.4A15.6 10.1 0 0 0 488.1 526.4V504.4Z" fill="#ffffff"/>
<ellipse cx="472.5" cy="504.4" rx="15.6" ry="10.1" fill="#ffffff" stroke="#b8b8c0" stroke-width="0.9"/>
</g>
<g id="panels">
<polygon points="557.1,477.1 569.7,483 569.7,496 557.1,490.1" fill="#f58a3c"/>
<path d="M557.1 477.1L557.1 489.8" stroke="#b05a20" stroke-width="0.8" opacity="0.55" fill="none"/>
<path d="M557.1 477.1L569.7 483" stroke="#b05a20" stroke-width="0.8" opacity="0.55" fill="none"/>
<polygon points="569.7,470.7 582.1,476.5 582.1,489.5 569.7,483.7" fill="#fbbd85"/>
<polygon points="569.7,483.4 582.1,489.2 582.1,502.2 569.7,496.4" fill="#f9a040"/>
<polygon points="569.7,496.1 582.1,501.9 582.1,514.9 569.7,509.1" fill="#f58a3a"/>
<path d="M569.7 470.7L569.7 508.8" stroke="#b05a20" stroke-width="0.8" opacity="0.55" fill="none"/>
<path d="M569.7 470.7L582.1 476.5" stroke="#b05a20" stroke-width="0.8" opacity="0.55" fill="none"/>
<polygon points="582.1,477.1 594.5,482.9 594.5,495.9 582.1,490.1" fill="#fdd09c"/>
<polygon points="582.1,489.8 594.5,495.6 594.5,508.6 582.1,502.8" fill="#fbaf58"/>
<polygon points="582.1,502.5 594.5,508.3 594.5,521.3 582.1,515.5" fill="#f0873a"/>
<polygon points="582.1,515.2 594.5,521 594.5,534 582.1,528.2" fill="#c8642e"/>
<path d="M582.1 477.1L582.1 527.9" stroke="#b05a20" stroke-width="0.8" opacity="0.55" fill="none"/>
<path d="M582.1 477.1L594.5 482.9" stroke="#b05a20" stroke-width="0.8" opacity="0.55" fill="none"/>
<polygon points="594.5,483.5 607.8,489.8 607.8,502.8 594.5,496.5" fill="#fdd8a0"/>
<polygon points="594.5,496.2 607.8,502.5 607.8,515.5 594.5,509.2" fill="#f8b060"/>
<polygon points="594.5,508.9 607.8,515.2 607.8,528.2 594.5,521.9" fill="#d88c3c"/>
<polygon points="594.5,521.6 607.8,527.9 607.8,540.9 594.5,534.6" fill="#b87034"/>
<path d="M594.5 483.5L594.5 534.3" stroke="#b05a20" stroke-width="0.8" opacity="0.55" fill="none"/>
<path d="M594.5 483.5L607.8 489.8" stroke="#b05a20" stroke-width="0.8" opacity="0.55" fill="none"/>
<polygon points="607.8,477.1 620.6,483.1 620.6,496.1 607.8,490.1" fill="#fde0c5"/>
<polygon points="607.8,489.8 620.6,495.8 620.6,508.8 607.8,502.8" fill="#fbd0a0"/>
<polygon points="607.8,502.5 620.6,508.5 620.6,521.5 607.8,515.5" fill="#e4ae6c"/>
<polygon points="607.8,515.2 620.6,521.2 620.6,534.2 607.8,528.2" fill="#c8935d"/>
<polygon points="607.8,527.9 620.6,533.9 620.6,546.9 607.8,540.9" fill="#96694a"/>
<polygon points="607.8,540.6 620.6,546.6 620.6,559.6 607.8,553.6" fill="#6b4429"/>
<path d="M607.8 477.1L607.8 553.3" stroke="#b05a20" stroke-width="0.8" opacity="0.55" fill="none"/>
<path d="M607.8 477.1L620.6 483.1" stroke="#b05a20" stroke-width="0.8" opacity="0.55" fill="none"/>
<polygon points="620.6,483.5 633.4,489.5 633.4,502.5 620.6,496.5" fill="#fde6d4"/>
<polygon points="620.6,496.2 633.4,502.2 633.4,515.2 620.6,509.2" fill="#f0d2ac"/>
<polygon points="620.6,508.9 633.4,514.9 633.4,527.9 620.6,521.9" fill="#e2b47c"/>
<polygon points="620.6,521.6 633.4,527.6 633.4,540.6 620.6,534.6" fill="#c09468"/>
<polygon points="620.6,534.3 633.4,540.3 633.4,553.3 620.6,547.3" fill="#946c4c"/>
<polygon points="620.6,547 633.4,553 633.4,566 620.6,560" fill="#5b4a2c"/>
<polygon points="620.6,559.7 633.4,565.7 633.4,578.7 620.6,572.7" fill="#3c2522"/>
<path d="M620.6 483.5L620.6 572.4" stroke="#b05a20" stroke-width="0.8" opacity="0.55" fill="none"/>
<path d="M620.6 483.5L633.4 489.5" stroke="#b05a20" stroke-width="0.8" opacity="0.55" fill="none"/>
<polygon points="638.2,465.9 648.6,475.8 648.6,489.1 638.2,479.2" fill="#e6e62c"/>
<path d="M638.2 465.9L638.2 478.9" stroke="#8a8a20" stroke-width="0.8" opacity="0.55" fill="none"/>
<path d="M638.2 465.9L648.6 475.8" stroke="#8a8a20" stroke-width="0.8" opacity="0.55" fill="none"/>
<polygon points="648.6,475.7 658.8,485.4 658.8,498.7 648.6,489" fill="#dde02a"/>
<polygon points="648.6,488.7 658.8,498.4 658.8,511.7 648.6,502" fill="#e6e62e"/>
<path d="M648.6 475.7L648.6 501.7" stroke="#8a8a20" stroke-width="0.8" opacity="0.55" fill="none"/>
<path d="M648.6 475.7L658.8 485.4" stroke="#8a8a20" stroke-width="0.8" opacity="0.55" fill="none"/>
<polygon points="658.8,485.5 669.2,495.4 669.2,508.7 658.8,498.8" fill="#e4e664"/>
<polygon points="658.8,498.5 669.2,508.4 669.2,521.7 658.8,511.8" fill="#dfe02c"/>
<polygon points="658.8,511.5 669.2,521.4 669.2,534.7 658.8,524.8" fill="#c4c02c"/>
<path d="M658.8 485.5L658.8 524.5" stroke="#8a8a20" stroke-width="0.8" opacity="0.55" fill="none"/>
<path d="M658.8 485.5L669.2 495.4" stroke="#8a8a20" stroke-width="0.8" opacity="0.55" fill="none"/>
<polygon points="669.2,495.3 679.4,505 679.4,518.3 669.2,508.6" fill="#d8e27a"/>
<polygon points="669.2,508.3 679.4,518 679.4,531.3 669.2,521.6" fill="#d8dc48"/>
<polygon points="669.2,521.3 679.4,531 679.4,544.3 669.2,534.6" fill="#c0c03c"/>
<polygon points="669.2,534.3 679.4,544 679.4,557.3 669.2,547.6" fill="#a8a030"/>
<path d="M669.2 495.3L669.2 547.3" stroke="#8a8a20" stroke-width="0.8" opacity="0.55" fill="none"/>
<path d="M669.2 495.3L679.4 505" stroke="#8a8a20" stroke-width="0.8" opacity="0.55" fill="none"/>
<polygon points="679.4,505.1 689.8,515 689.8,528.3 679.4,518.4" fill="#e4ea90"/>
<polygon points="679.4,518.1 689.8,528 689.8,541.3 679.4,531.4" fill="#d4d870"/>
<polygon points="679.4,531.1 689.8,541 689.8,554.3 679.4,544.4" fill="#b0b850"/>
<polygon points="679.4,544.1 689.8,554 689.8,567.3 679.4,557.4" fill="#909838"/>
<polygon points="679.4,557.1 689.8,567 689.8,580.3 679.4,570.4" fill="#6c702c"/>
<path d="M679.4 505.1L679.4 570.1" stroke="#8a8a20" stroke-width="0.8" opacity="0.55" fill="none"/>
<path d="M679.4 505.1L689.8 515" stroke="#8a8a20" stroke-width="0.8" opacity="0.55" fill="none"/>
<polygon points="689.8,514.9 700.2,524.8 700.2,538.1 689.8,528.2" fill="#eaf0a0"/>
<polygon points="689.8,527.9 700.2,537.8 700.2,551.1 689.8,541.2" fill="#c8d88a"/>
<polygon points="689.8,540.9 700.2,550.8 700.2,564.1 689.8,554.2" fill="#a8b868"/>
<polygon points="689.8,553.9 700.2,563.8 700.2,577.1 689.8,567.2" fill="#8a9448"/>
<polygon points="689.8,566.9 700.2,576.8 700.2,590.1 689.8,580.2" fill="#6a6c30"/>
<polygon points="689.8,579.9 700.2,589.8 700.2,603.1 689.8,593.2" fill="#4e4a24"/>
<polygon points="689.8,592.9 700.2,602.8 700.2,616.1 689.8,606.2" fill="#3a2a24"/>
<path d="M689.8 514.9L689.8 605.9" stroke="#8a8a20" stroke-width="0.8" opacity="0.55" fill="none"/>
<path d="M689.8 514.9L700.2 524.8" stroke="#8a8a20" stroke-width="0.8" opacity="0.55" fill="none"/>
<polygon points="749.8,524.7 760.2,514.9 760.2,528.2 749.8,538" fill="#dcecac"/>
<polygon points="749.8,537.7 760.2,527.9 760.2,541.2 749.8,551" fill="#c4dc88"/>
<polygon points="749.8,550.7 760.2,540.9 760.2,554.2 749.8,564" fill="#a8c868"/>
<polygon points="749.8,563.7 760.2,553.9 760.2,567.2 749.8,577" fill="#88b050"/>
<polygon points="749.8,576.7 760.2,566.9 760.2,580.2 749.8,590" fill="#648c3c"/>
<polygon points="749.8,589.7 760.2,579.9 760.2,593.2 749.8,603" fill="#4c6830"/>
<polygon points="749.8,602.7 760.2,592.9 760.2,606.2 749.8,616" fill="#2c3c24"/>
<path d="M749.8 524.7L749.8 615.7" stroke="#4c7c20" stroke-width="0.8" opacity="0.55" fill="none"/>
<path d="M749.8 524.7L760.2 514.9" stroke="#4c7c20" stroke-width="0.8" opacity="0.55" fill="none"/>
<polygon points="760.2,514.9 770.8,504.9 770.8,518.2 760.2,528.2" fill="#d8e898"/>
<polygon points="760.2,527.9 770.8,517.9 770.8,531.2 760.2,541.2" fill="#bcd870"/>
<polygon points="760.2,540.9 770.8,530.9 770.8,544.2 760.2,554.2" fill="#98c44c"/>
<polygon points="760.2,553.9 770.8,543.9 770.8,557.2 760.2,567.2" fill="#78b048"/>
<polygon points="760.2,566.9 770.8,556.9 770.8,570.2 760.2,580.2" fill="#589838"/>
<polygon points="760.2,579.9 770.8,569.9 770.8,583.2 760.2,593.2" fill="#3c7c34"/>
<path d="M760.2 514.9L760.2 592.9" stroke="#4c7c20" stroke-width="0.8" opacity="0.55" fill="none"/>
<path d="M760.2 514.9L770.8 504.9" stroke="#4c7c20" stroke-width="0.8" opacity="0.55" fill="none"/>
<polygon points="770.8,505.1 781.2,495.3 781.2,508.6 770.8,518.4" fill="#cce080"/>
<polygon points="770.8,518.1 781.2,508.3 781.2,521.6 770.8,531.4" fill="#b0d454"/>
<polygon points="770.8,531.1 781.2,521.3 781.2,534.6 770.8,544.4" fill="#94c840"/>
<polygon points="770.8,544.1 781.2,534.3 781.2,547.6 770.8,557.4" fill="#70b840"/>
<polygon points="770.8,557.1 781.2,547.3 781.2,560.6 770.8,570.4" fill="#50ac44"/>
<path d="M770.8 505.1L770.8 570.1" stroke="#4c7c20" stroke-width="0.8" opacity="0.55" fill="none"/>
<path d="M770.8 505.1L781.2 495.3" stroke="#4c7c20" stroke-width="0.8" opacity="0.55" fill="none"/>
<polygon points="781.2,495.3 791.4,485.7 791.4,499 781.2,508.6" fill="#c0dc60"/>
<polygon points="781.2,508.3 791.4,498.7 791.4,512 781.2,521.6" fill="#a8d040"/>
<polygon points="781.2,521.3 791.4,511.7 791.4,525 781.2,534.6" fill="#98cc3c"/>
<polygon points="781.2,534.3 791.4,524.7 791.4,538 781.2,547.6" fill="#80c43c"/>
<path d="M781.2 495.3L781.2 547.3" stroke="#4c7c20" stroke-width="0.8" opacity="0.55" fill="none"/>
<path d="M781.2 495.3L791.4 485.7" stroke="#4c7c20" stroke-width="0.8" opacity="0.55" fill="none"/>
<polygon points="791.4,497.6 801.2,488.4 801.2,501.7 791.4,510.9" fill="#b8d430"/>
<path d="M791.4 497.6L791.4 510.6" stroke="#4c7c20" stroke-width="0.8" opacity="0.55" fill="none"/>
<path d="M791.4 497.6L801.2 488.4" stroke="#4c7c20" stroke-width="0.8" opacity="0.55" fill="none"/>
<polygon points="815.1,489.4 828.2,482.7 828.2,495.6 815.1,502.3" fill="#a5dbd0"/>
<polygon points="815.1,502 828.2,495.3 828.2,508.2 815.1,514.9" fill="#6fc9b6"/>
<polygon points="815.1,514.6 828.2,507.9 828.2,520.8 815.1,527.5" fill="#45b3a0"/>
<polygon points="815.1,527.2 828.2,520.5 828.2,533.4 815.1,540.1" fill="#3f9484"/>
<polygon points="815.1,539.8 828.2,533.1 828.2,546 815.1,552.7" fill="#357a6c"/>
<polygon points="815.1,552.4 828.2,545.7 828.2,558.6 815.1,565.3" fill="#14664f"/>
<polygon points="815.1,565 828.2,558.3 828.2,571.2 815.1,577.9" fill="#1b5a44"/>
<path d="M815.1 489.4L815.1 577.6" stroke="#007c60" stroke-width="0.8" opacity="0.55" fill="none"/>
<path d="M815.1 489.4L828.2 482.7" stroke="#007c60" stroke-width="0.8" opacity="0.55" fill="none"/>
<polygon points="828.2,482.5 841,476 841,488.9 828.2,495.4" fill="#80d0bc"/>
<polygon points="828.2,495.1 841,488.6 841,501.5 828.2,508" fill="#30bda4"/>
<polygon points="828.2,507.7 841,501.2 841,514.1 828.2,520.6" fill="#00b090"/>
<polygon points="828.2,520.3 841,513.8 841,526.7 828.2,533.2" fill="#00a07c"/>
<polygon points="828.2,532.9 841,526.4 841,539.3 828.2,545.8" fill="#008c68"/>
<polygon points="828.2,545.5 841,539 841,551.9 828.2,558.4" fill="#00804c"/>
<path d="M828.2 482.5L828.2 558.1" stroke="#007c60" stroke-width="0.8" opacity="0.55" fill="none"/>
<path d="M828.2 482.5L841 476" stroke="#007c60" stroke-width="0.8" opacity="0.55" fill="none"/>
<polygon points="841,476.1 853.3,469.8 853.3,482.7 841,489" fill="#30c0a0"/>
<polygon points="841,488.7 853.3,482.4 853.3,495.3 841,501.6" fill="#00b48c"/>
<polygon points="841,501.3 853.3,495 853.3,507.9 841,514.2" fill="#00ac80"/>
<polygon points="841,513.9 853.3,507.6 853.3,520.5 841,526.8" fill="#00a474"/>
<path d="M841 476.1L841 526.5" stroke="#007c60" stroke-width="0.8" opacity="0.55" fill="none"/>
<path d="M841 476.1L853.3 469.8" stroke="#007c60" stroke-width="0.8" opacity="0.55" fill="none"/>
<polygon points="853.3,508 865.5,501.8 865.5,514.7 853.3,520.9" fill="#00a870"/>
<path d="M853.3 508L853.3 520.6" stroke="#007c60" stroke-width="0.8" opacity="0.55" fill="none"/>
<path d="M853.3 508L865.5 501.8" stroke="#007c60" stroke-width="0.8" opacity="0.55" fill="none"/>
<rect x="541.7" y="633.5" width="15.4" height="13.6" fill="#ee3744"/>
<path d="M541.7 633.5V646.8" stroke="#a01828" stroke-width="0.8" opacity="0.5"/>
<rect x="556.8" y="620.7" width="15.6" height="13.1" fill="#ef404c"/>
<rect x="556.8" y="633.5" width="15.6" height="13.6" fill="#ec3439"/>
<path d="M556.8 620.7V646.8" stroke="#a01828" stroke-width="0.8" opacity="0.5"/>
<rect x="572.1" y="607.8" width="15.7" height="13.2" fill="#f05a6c"/>
<rect x="572.1" y="620.7" width="15.7" height="13.1" fill="#ee3a4a"/>
<rect x="572.1" y="633.5" width="15.7" height="13.6" fill="#d03e4a"/>
<rect x="572.1" y="646.8" width="15.7" height="13.1" fill="#9a2832"/>
<path d="M572.1 607.8V659.6" stroke="#a01828" stroke-width="0.8" opacity="0.5"/>
<rect x="587.5" y="595" width="15.6" height="13.1" fill="#f48aa0"/>
<rect x="587.5" y="607.8" width="15.6" height="13.2" fill="#f06a84"/>
<rect x="587.5" y="620.7" width="15.6" height="13.1" fill="#ee5060"/>
<rect x="587.5" y="633.5" width="15.6" height="13.6" fill="#c64650"/>
<rect x="587.5" y="646.8" width="15.6" height="13.1" fill="#8a2a38"/>
<path d="M587.5 595V659.6" stroke="#a01828" stroke-width="0.8" opacity="0.5"/>
<rect x="602.8" y="595" width="15.5" height="13.1" fill="#f49cb0"/>
<rect x="602.8" y="607.8" width="15.5" height="13.2" fill="#f27890"/>
<rect x="602.8" y="620.7" width="15.5" height="13.1" fill="#ea6674"/>
<rect x="602.8" y="633.5" width="15.5" height="13.6" fill="#b84c60"/>
<rect x="602.8" y="646.8" width="15.5" height="13.1" fill="#7c2c3c"/>
<rect x="602.8" y="659.6" width="15.5" height="12.7" fill="#5c2024"/>
<path d="M602.8 595V672" stroke="#a01828" stroke-width="0.8" opacity="0.5"/>
<rect x="618" y="581.7" width="15.5" height="13.6" fill="#fad0de"/>
<rect x="618" y="595" width="15.5" height="13.1" fill="#f6a4b4"/>
<rect x="618" y="607.8" width="15.5" height="13.2" fill="#f48ca0"/>
<rect x="618" y="620.7" width="15.5" height="13.1" fill="#e0707e"/>
<rect x="618" y="633.5" width="15.5" height="13.6" fill="#a85868"/>
<rect x="618" y="646.8" width="15.5" height="13.1" fill="#743444"/>
<rect x="618" y="659.6" width="15.5" height="12.7" fill="#50202c"/>
<path d="M618 581.7V672" stroke="#a01828" stroke-width="0.8" opacity="0.5"/>
<rect x="633.2" y="581.7" width="15.8" height="13.6" fill="#fce0e8"/>
<rect x="633.2" y="595" width="15.8" height="13.1" fill="#f8bccc"/>
<rect x="633.2" y="607.8" width="15.8" height="13.2" fill="#eca4a8"/>
<rect x="633.2" y="620.7" width="15.8" height="13.1" fill="#c87a88"/>
<rect x="633.2" y="633.5" width="15.8" height="13.6" fill="#a45a68"/>
<rect x="633.2" y="646.8" width="15.8" height="13.1" fill="#6c4044"/>
<rect x="633.2" y="659.6" width="15.8" height="12.7" fill="#4c2c34"/>
<path d="M633.2 581.7V672" stroke="#a01828" stroke-width="0.8" opacity="0.5"/>
<path d="M618 581.7H648.7V672" stroke="#e03050" stroke-width="0.8" opacity="0.6" fill="none"/>
<path d="M587.5 595H618" stroke="#e03050" stroke-width="0.8" opacity="0.5" fill="none"/>
<rect x="801.1" y="582.1" width="15.6" height="13.6" fill="#a8dce0"/>
<rect x="801.1" y="595.4" width="15.6" height="13.1" fill="#40bcc8"/>
<rect x="801.1" y="608.2" width="15.6" height="13.2" fill="#00b4b8"/>
<rect x="801.1" y="621.1" width="15.6" height="13.1" fill="#00acb8"/>
<rect x="801.1" y="633.9" width="15.6" height="13.4" fill="#008898"/>
<rect x="801.1" y="647" width="15.6" height="12.9" fill="#245c6c"/>
<rect x="801.1" y="659.6" width="15.6" height="12.7" fill="#1c3c4c"/>
<path d="M801.1 582.1V672" stroke="#006070" stroke-width="0.8" opacity="0.5"/>
<rect x="816.4" y="595.4" width="15.5" height="13.1" fill="#00b0cc"/>
<rect x="816.4" y="608.2" width="15.5" height="13.2" fill="#00acc0"/>
<rect x="816.4" y="621.1" width="15.5" height="13.1" fill="#00a8b8"/>
<rect x="816.4" y="633.9" width="15.5" height="13.4" fill="#008c9c"/>
<rect x="816.4" y="647" width="15.5" height="12.9" fill="#00586c"/>
<rect x="816.4" y="659.6" width="15.5" height="12.7" fill="#0c3c50"/>
<path d="M816.4 595.4V672" stroke="#006070" stroke-width="0.8" opacity="0.5"/>
<rect x="831.6" y="608.2" width="15.5" height="13.2" fill="#00b0c4"/>
<rect x="831.6" y="621.1" width="15.5" height="13.1" fill="#00acb0"/>
<rect x="831.6" y="633.9" width="15.5" height="13.4" fill="#0094a8"/>
<rect x="831.6" y="647" width="15.5" height="12.9" fill="#00708c"/>
<path d="M831.6 608.2V659.6" stroke="#006070" stroke-width="0.8" opacity="0.5"/>
<polygon points="557.4,761.7 570.1,755.2 570.1,768.1 557.4,774.5" fill="#ec2860"/>
<path d="M557.4 761.7L557.4 774.2" stroke="#c01860" stroke-width="0.8" opacity="0.55" fill="none"/>
<path d="M557.4 761.7L570.1 755.2" stroke="#c01860" stroke-width="0.8" opacity="0.55" fill="none"/>
<polygon points="570.1,730.9 583,724.3 583,737.2 570.1,743.7" fill="#f03c8c"/>
<polygon points="570.1,743.4 583,736.9 583,749.7 570.1,756.3" fill="#e83880"/>
<polygon points="570.1,756 583,749.4 583,762.3 570.1,768.8" fill="#c8306c"/>
<polygon points="570.1,768.5 583,762 583,774.8 570.1,781.4" fill="#8c2858"/>
<path d="M570.1 730.9L570.1 781.1" stroke="#c01860" stroke-width="0.8" opacity="0.55" fill="none"/>
<path d="M570.1 730.9L583 724.3" stroke="#c01860" stroke-width="0.8" opacity="0.55" fill="none"/>
<polygon points="583,711.9 596,705.3 596,718.1 583,724.7" fill="#f490b8"/>
<polygon points="583,724.4 596,717.8 596,730.7 583,737.3" fill="#ec4c94"/>
<polygon points="583,737 596,730.4 596,743.2 583,749.8" fill="#e84088"/>
<polygon points="583,749.5 596,742.9 596,755.8 583,762.4" fill="#c03468"/>
<polygon points="583,762.1 596,755.5 596,768.3 583,774.9" fill="#8c2864"/>
<path d="M583 711.9L583 774.6" stroke="#c01860" stroke-width="0.8" opacity="0.55" fill="none"/>
<path d="M583 711.9L596 705.3" stroke="#c01860" stroke-width="0.8" opacity="0.55" fill="none"/>
<polygon points="596,693.2 609.3,686.4 609.3,699.3 596,706" fill="#fac8dc"/>
<polygon points="596,705.8 609.3,699 609.3,711.8 596,718.6" fill="#f8a8c8"/>
<polygon points="596,718.3 609.3,711.5 609.3,724.4 596,731.1" fill="#ee78b0"/>
<polygon points="596,730.9 609.3,724.1 609.3,736.9 596,743.7" fill="#e458a0"/>
<polygon points="596,743.4 609.3,736.6 609.3,749.5 596,756.2" fill="#c04070"/>
<polygon points="596,756 609.3,749.2 609.3,762 596,768.8" fill="#88284c"/>
<polygon points="596,768.5 609.3,761.7 609.3,774.6 596,781.3" fill="#5c1c38"/>
<path d="M596 693.2L596 781.1" stroke="#c01860" stroke-width="0.8" opacity="0.55" fill="none"/>
<path d="M596 693.2L609.3 686.4" stroke="#c01860" stroke-width="0.8" opacity="0.55" fill="none"/>
<polygon points="609.3,686.6 621.6,680.3 621.6,693.2 609.3,699.4" fill="#fad0e4"/>
<polygon points="609.3,699.1 621.6,692.9 621.6,705.7 609.3,712" fill="#f8a4c4"/>
<polygon points="609.3,711.7 621.6,705.4 621.6,718.3 609.3,724.5" fill="#e880b0"/>
<polygon points="609.3,724.2 621.6,718 621.6,730.8 609.3,737.1" fill="#c85890"/>
<polygon points="609.3,736.8 621.6,730.5 621.6,743.4 609.3,749.6" fill="#a84070"/>
<polygon points="609.3,749.4 621.6,743.1 621.6,755.9 609.3,762.2" fill="#70304c"/>
<polygon points="609.3,761.9 621.6,755.6 621.6,768.5 609.3,774.8" fill="#501c34"/>
<path d="M609.3 686.6L609.3 774.5" stroke="#c01860" stroke-width="0.8" opacity="0.55" fill="none"/>
<path d="M609.3 686.6L621.6 680.3" stroke="#c01860" stroke-width="0.8" opacity="0.55" fill="none"/>
<polygon points="621.6,680.3 633.4,674.3 633.4,687.1 621.6,693.1" fill="#fcd8e8"/>
<polygon points="621.6,692.8 633.4,686.8 633.4,699.7 621.6,705.7" fill="#f8b0cc"/>
<polygon points="621.6,705.4 633.4,699.4 633.4,712.2 621.6,718.2" fill="#e890b0"/>
<polygon points="621.6,717.9 633.4,711.9 633.4,724.8 621.6,730.8" fill="#c87094"/>
<polygon points="621.6,730.5 633.4,724.5 633.4,737.3 621.6,743.3" fill="#a0506c"/>
<polygon points="621.6,743 633.4,737 633.4,749.9 621.6,755.9" fill="#6c3450"/>
<polygon points="621.6,755.6 633.4,749.6 633.4,762.4 621.6,768.4" fill="#4c2038"/>
<path d="M621.6 680.3L621.6 768.1" stroke="#c01860" stroke-width="0.8" opacity="0.55" fill="none"/>
<path d="M621.6 680.3L633.4 674.3" stroke="#c01860" stroke-width="0.8" opacity="0.55" fill="none"/>
<polygon points="640.1,760.2 650.2,750.5 650.2,763.9 640.1,773.6" fill="#8c3c9c"/>
<path d="M640.1 760.2L640.1 773.3" stroke="#602880" stroke-width="0.8" opacity="0.55" fill="none"/>
<path d="M640.1 760.2L650.2 750.5" stroke="#602880" stroke-width="0.8" opacity="0.55" fill="none"/>
<polygon points="650.2,737 660.6,727 660.6,740.4 650.2,750.4" fill="#a060b0"/>
<polygon points="650.2,750.1 660.6,740.1 660.6,753.5 650.2,763.5" fill="#803498"/>
<polygon points="650.2,763.2 660.6,753.2 660.6,766.6 650.2,776.6" fill="#5c2880"/>
<path d="M650.2 737L650.2 776.3" stroke="#602880" stroke-width="0.8" opacity="0.55" fill="none"/>
<path d="M650.2 737L660.6 727" stroke="#602880" stroke-width="0.8" opacity="0.55" fill="none"/>
<polygon points="660.6,715.1 670.9,705.2 670.9,718.6 660.6,728.5" fill="#a870b4"/>
<polygon points="660.6,728.2 670.9,718.3 670.9,731.7 660.6,741.6" fill="#9450a8"/>
<polygon points="660.6,741.3 670.9,731.4 670.9,744.8 660.6,754.7" fill="#7c3894"/>
<polygon points="660.6,754.4 670.9,744.5 670.9,757.9 660.6,767.8" fill="#582474"/>
<path d="M660.6 715.1L660.6 767.5" stroke="#602880" stroke-width="0.8" opacity="0.55" fill="none"/>
<path d="M660.6 715.1L670.9 705.2" stroke="#602880" stroke-width="0.8" opacity="0.55" fill="none"/>
<polygon points="670.9,690.4 681.3,680.4 681.3,693.8 670.9,703.8" fill="#c090c8"/>
<polygon points="670.9,703.5 681.3,693.5 681.3,706.9 670.9,716.9" fill="#a474b8"/>
<polygon points="670.9,716.6 681.3,706.6 681.3,720 670.9,730" fill="#8c50a4"/>
<polygon points="670.9,729.7 681.3,719.7 681.3,733.1 670.9,743.1" fill="#743c94"/>
<polygon points="670.9,742.8 681.3,732.8 681.3,746.2 670.9,756.2" fill="#5c2870"/>
<polygon points="670.9,755.9 681.3,745.9 681.3,759.3 670.9,769.3" fill="#3c1c50"/>
<path d="M670.9 690.4L670.9 769" stroke="#602880" stroke-width="0.8" opacity="0.55" fill="none"/>
<path d="M670.9 690.4L681.3 680.4" stroke="#602880" stroke-width="0.8" opacity="0.55" fill="none"/>
<polygon points="681.3,668.5 691.4,658.8 691.4,672.2 681.3,681.9" fill="#e4bce0"/>
<polygon points="681.3,681.6 691.4,671.9 691.4,685.3 681.3,695" fill="#c494cc"/>
<polygon points="681.3,694.7 691.4,685 691.4,698.4 681.3,708.1" fill="#a878b8"/>
<polygon points="681.3,707.8 691.4,698.1 691.4,711.5 681.3,721.2" fill="#8858a0"/>
<polygon points="681.3,720.9 691.4,711.2 691.4,724.6 681.3,734.3" fill="#6c4480"/>
<polygon points="681.3,734 691.4,724.3 691.4,737.7 681.3,747.4" fill="#582c68"/>
<polygon points="681.3,747.1 691.4,737.4 691.4,750.8 681.3,760.5" fill="#3c2048"/>
<path d="M681.3 668.5L681.3 760.2" stroke="#602880" stroke-width="0.8" opacity="0.55" fill="none"/>
<path d="M681.3 668.5L691.4 658.8" stroke="#602880" stroke-width="0.8" opacity="0.55" fill="none"/>
<polygon points="691.4,658.6 701.5,648.9 701.5,662.3 691.4,672" fill="#f0d4ec"/>
<polygon points="691.4,671.7 701.5,662 701.5,675.4 691.4,685.1" fill="#d8b0dc"/>
<polygon points="691.4,684.8 701.5,675.1 701.5,688.5 691.4,698.2" fill="#b890c8"/>
<polygon points="691.4,697.9 701.5,688.2 701.5,701.6 691.4,711.3" fill="#9870ac"/>
<polygon points="691.4,711 701.5,701.3 701.5,714.7 691.4,724.4" fill="#785088"/>
<polygon points="691.4,724.1 701.5,714.4 701.5,727.8 691.4,737.5" fill="#5c3468"/>
<polygon points="691.4,737.2 701.5,727.5 701.5,740.9 691.4,750.6" fill="#48284c"/>
<path d="M691.4 658.6L691.4 750.3" stroke="#602880" stroke-width="0.8" opacity="0.55" fill="none"/>
<path d="M691.4 658.6L701.5 648.9" stroke="#602880" stroke-width="0.8" opacity="0.55" fill="none"/>
<polygon points="752.4,649.5 762.4,659.1 762.4,672.2 752.4,662.6" fill="#c8d8f0"/>
<polygon points="752.4,662.3 762.4,671.9 762.4,685 752.4,675.4" fill="#b0a8d8"/>
<polygon points="752.4,675.1 762.4,684.7 762.4,697.8 752.4,688.2" fill="#9080c4"/>
<polygon points="752.4,687.9 762.4,697.5 762.4,710.6 752.4,701" fill="#7c6cb4"/>
<polygon points="752.4,700.7 762.4,710.3 762.4,723.4 752.4,713.8" fill="#68549c"/>
<polygon points="752.4,713.5 762.4,723.1 762.4,736.2 752.4,726.6" fill="#583c84"/>
<polygon points="752.4,726.3 762.4,735.9 762.4,749 752.4,739.4" fill="#4c2868"/>
<path d="M752.4 649.5L752.4 739.1" stroke="#302070" stroke-width="0.8" opacity="0.55" fill="none"/>
<path d="M752.4 649.5L762.4 659.1" stroke="#302070" stroke-width="0.8" opacity="0.55" fill="none"/>
<polygon points="762.4,671.4 772.7,681.3 772.7,694.4 762.4,684.5" fill="#a8a0d8"/>
<polygon points="762.4,684.2 772.7,694.1 772.7,707.2 762.4,697.3" fill="#9070c0"/>
<polygon points="762.4,697 772.7,706.9 772.7,720 762.4,710.1" fill="#7458b0"/>
<polygon points="762.4,709.8 772.7,719.7 772.7,732.8 762.4,722.9" fill="#5c44a0"/>
<polygon points="762.4,722.6 772.7,732.5 772.7,745.6 762.4,735.7" fill="#503888"/>
<polygon points="762.4,735.4 772.7,745.3 772.7,758.4 762.4,748.5" fill="#3c2468"/>
<path d="M762.4 671.4L762.4 748.2" stroke="#302070" stroke-width="0.8" opacity="0.55" fill="none"/>
<path d="M762.4 671.4L772.7 681.3" stroke="#302070" stroke-width="0.8" opacity="0.55" fill="none"/>
<polygon points="772.7,680.9 782.8,690.6 782.8,703.7 772.7,694" fill="#a490d0"/>
<polygon points="772.7,693.7 782.8,703.4 782.8,716.5 772.7,706.8" fill="#8068bc"/>
<polygon points="772.7,706.5 782.8,716.2 782.8,729.3 772.7,719.6" fill="#6850b0"/>
<polygon points="772.7,719.3 782.8,729 782.8,742.1 772.7,732.4" fill="#5840a4"/>
<polygon points="772.7,732.1 782.8,741.8 782.8,754.9 772.7,745.2" fill="#4c3090"/>
<polygon points="772.7,744.9 782.8,754.6 782.8,767.7 772.7,758" fill="#3c2470"/>
<path d="M772.7 680.9L772.7 757.7" stroke="#302070" stroke-width="0.8" opacity="0.55" fill="none"/>
<path d="M772.7 680.9L782.8 690.6" stroke="#302070" stroke-width="0.8" opacity="0.55" fill="none"/>
<polygon points="782.8,704.7 792.9,714.4 792.9,727.5 782.8,717.8" fill="#7464b8"/>
<polygon points="782.8,717.5 792.9,727.2 792.9,740.3 782.8,730.6" fill="#5c4cac"/>
<polygon points="782.8,730.3 792.9,740 792.9,753.1 782.8,743.4" fill="#5040a0"/>
<polygon points="782.8,743.1 792.9,752.8 792.9,765.9 782.8,756.2" fill="#402c88"/>
<path d="M782.8 704.7L782.8 755.9" stroke="#302070" stroke-width="0.8" opacity="0.55" fill="none"/>
<path d="M782.8 704.7L792.9 714.4" stroke="#302070" stroke-width="0.8" opacity="0.55" fill="none"/>
<polygon points="792.9,728.5 803.2,738.4 803.2,751.5 792.9,741.6" fill="#6450ac"/>
<polygon points="792.9,741.3 803.2,751.2 803.2,764.3 792.9,754.4" fill="#4840a0"/>
<polygon points="792.9,754.1 803.2,764 803.2,777.1 792.9,767.2" fill="#3c2c8c"/>
<path d="M792.9 728.5L792.9 766.9" stroke="#302070" stroke-width="0.8" opacity="0.55" fill="none"/>
<path d="M792.9 728.5L803.2 738.4" stroke="#302070" stroke-width="0.8" opacity="0.55" fill="none"/>
<polygon points="803.2,763.6 813.2,773.2 813.2,786.3 803.2,776.7" fill="#382c88"/>
<path d="M803.2 763.6L803.2 776.4" stroke="#302070" stroke-width="0.8" opacity="0.55" fill="none"/>
<path d="M803.2 763.6L813.2 773.2" stroke="#302070" stroke-width="0.8" opacity="0.55" fill="none"/>
<polygon points="816.1,674.2 828.5,680.2 828.5,693.4 816.1,687.4" fill="#c8e8f4"/>
<polygon points="816.1,687.1 828.5,693.1 828.5,706.3 816.1,700.3" fill="#a8cce8"/>
<polygon points="816.1,700 828.5,706 828.5,719.2 816.1,713.2" fill="#50a0c8"/>
<polygon points="816.1,712.9 828.5,718.9 828.5,732.1 816.1,726.1" fill="#2c84b0"/>
<polygon points="816.1,725.8 828.5,731.8 828.5,745 816.1,739" fill="#34607c"/>
<polygon points="816.1,738.7 828.5,744.7 828.5,757.9 816.1,751.9" fill="#284870"/>
<polygon points="816.1,751.6 828.5,757.6 828.5,770.8 816.1,764.8" fill="#202438"/>
<path d="M816.1 674.2L816.1 764.5" stroke="#1040a0" stroke-width="0.8" opacity="0.55" fill="none"/>
<path d="M816.1 674.2L828.5 680.2" stroke="#1040a0" stroke-width="0.8" opacity="0.55" fill="none"/>
<polygon points="828.5,680.3 841.2,686.4 841.2,699.6 828.5,693.5" fill="#a0dcf0"/>
<polygon points="828.5,693.2 841.2,699.3 841.2,712.5 828.5,706.4" fill="#60c4e8"/>
<polygon points="828.5,706.1 841.2,712.2 841.2,725.4 828.5,719.3" fill="#1c9cd4"/>
<polygon points="828.5,719 841.2,725.1 841.2,738.3 828.5,732.2" fill="#1478b0"/>
<polygon points="828.5,731.9 841.2,738 841.2,751.2 828.5,745.1" fill="#146090"/>
<polygon points="828.5,744.8 841.2,750.9 841.2,764.1 828.5,758" fill="#1c4478"/>
<path d="M828.5 680.3L828.5 757.7" stroke="#1040a0" stroke-width="0.8" opacity="0.55" fill="none"/>
<path d="M828.5 680.3L841.2 686.4" stroke="#1040a0" stroke-width="0.8" opacity="0.55" fill="none"/>
<polygon points="841.2,699 854.1,705.2 854.1,718.4 841.2,712.2" fill="#00bce4"/>
<polygon points="841.2,711.9 854.1,718.1 854.1,731.3 841.2,725.1" fill="#0098d8"/>
<polygon points="841.2,724.8 854.1,731 854.1,744.2 841.2,738" fill="#0078c4"/>
<polygon points="841.2,737.7 854.1,743.9 854.1,757.1 841.2,750.9" fill="#0860b0"/>
<polygon points="841.2,750.6 854.1,756.8 854.1,770 841.2,763.8" fill="#2c3c80"/>
<path d="M841.2 699L841.2 763.5" stroke="#1040a0" stroke-width="0.8" opacity="0.55" fill="none"/>
<path d="M841.2 699L854.1 705.2" stroke="#1040a0" stroke-width="0.8" opacity="0.55" fill="none"/>
<polygon points="854.1,743.7 867.1,749.9 867.1,763.1 854.1,756.9" fill="#0054b0"/>
<path d="M854.1 743.7L854.1 756.6" stroke="#1040a0" stroke-width="0.8" opacity="0.55" fill="none"/>
<path d="M854.1 743.7L867.1 749.9" stroke="#1040a0" stroke-width="0.8" opacity="0.55" fill="none"/>
<path d="M710.3 569.3V710.6A15.3 9.6 0 0 0 740.9 710.6V569.3Z" fill="#282828" stroke="#555" stroke-width="0.6"/>
<path d="M710.3 569.3V698.1A15.3 6 0 0 0 740.9 698.1V569.3Z" fill="#3c3c3c" stroke="#555" stroke-width="0.6"/>
<path d="M710.3 569.3V686.4A15.3 6 0 0 0 740.9 686.4V569.3Z" fill="#505050" stroke="#555" stroke-width="0.6"/>
<path d="M710.3 569.3V673.5A15.3 6 0 0 0 740.9 673.5V569.3Z" fill="#606060" stroke="#555" stroke-width="0.6"/>
<path d="M710.3 569.3V660.7A15.3 6 0 0 0 740.9 660.7V569.3Z" fill="#707070" stroke="#555" stroke-width="0.6"/>
<path d="M710.3 569.3V647.8A15.3 6 0 0 0 740.9 647.8V569.3Z" fill="#888888" stroke="#555" stroke-width="0.6"/>
<path d="M710.3 569.3V635A15.3 6 0 0 0 740.9 635V569.3Z" fill="#a0a0a0" stroke="#555" stroke-width="0.6"/>
<path d="M710.3 569.3V622.1A15.3 6 0 0 0 740.9 622.1V569.3Z" fill="#b0b0b4" stroke="#555" stroke-width="0.6"/>
<path d="M710.3 569.3V610.4A15.3 6 0 0 0 740.9 610.4V569.3Z" fill="#c8c8d0" stroke="#555" stroke-width="0.6"/>
<path d="M710.3 569.3V597.5A15.3 6 0 0 0 740.9 597.5V569.3Z" fill="#e4e8e0" stroke="#555" stroke-width="0.6"/>
<path d="M710.3 569.3V583.6A15.3 6 0 0 0 740.9 583.6V569.3Z" fill="#ffffff" stroke="#555" stroke-width="0.6"/>
<ellipse cx="725.6" cy="569.3" rx="15.3" ry="9.6" fill="#ffffff" stroke="#666" stroke-width="0.7"/>
</g>
<text x="407" y="55.5" font-size="21.5" text-anchor="start" fill="#1a1a28" stroke="#1a1a28" stroke-width="0.45" font-family="'Liberation Serif', serif">C</text>
<text x="432" y="55.5" font-size="21.5" text-anchor="start" fill="#1a1a28" stroke="#1a1a28" stroke-width="0.45" font-family="'Liberation Serif', serif">—</text>
<text x="460" y="55.5" font-size="21.5" text-anchor="start" fill="#1a1a28" stroke="#1a1a28" stroke-width="0.45" font-family="'Liberation Serif', serif">Colour</text>
<text x="406" y="81.5" font-size="21.5" text-anchor="start" fill="#1a1a28" stroke="#1a1a28" stroke-width="0.45" font-family="'Liberation Serif', serif">W</text>
<text x="432" y="81.5" font-size="21.5" text-anchor="start" fill="#1a1a28" stroke="#1a1a28" stroke-width="0.45" font-family="'Liberation Serif', serif">—</text>
<text x="460" y="81.5" font-size="21.5" text-anchor="start" fill="#1a1a28" stroke="#1a1a28" stroke-width="0.45" font-family="'Liberation Serif', serif">White</text>
<text x="407" y="107.5" font-size="21.5" text-anchor="start" fill="#1a1a28" stroke="#1a1a28" stroke-width="0.45" font-family="'Liberation Serif', serif">B</text>
<text x="432" y="107.5" font-size="21.5" text-anchor="start" fill="#1a1a28" stroke="#1a1a28" stroke-width="0.45" font-family="'Liberation Serif', serif">—</text>
<text x="460" y="107.5" font-size="21.5" text-anchor="start" fill="#1a1a28" stroke="#1a1a28" stroke-width="0.45" font-family="'Liberation Serif', serif">Black</text>
<text x="279.5" y="76" font-size="21" text-anchor="middle" fill="#1a1a28" stroke="#1a1a28" stroke-width="0.45" font-family="'Liberation Serif', serif">W</text>
<text x="281" y="385" font-size="21" text-anchor="middle" fill="#1a1a28" stroke="#1a1a28" stroke-width="0.45" font-family="'Liberation Serif', serif">B</text>
<text x="436" y="300" font-size="21" text-anchor="middle" fill="#1a1a28" stroke="#1a1a28" stroke-width="0.45" font-family="'Liberation Serif', serif">C</text>
<text x="647" y="75" font-size="21" text-anchor="middle" fill="#1a1a28" stroke="#1a1a28" stroke-width="0.45" font-family="'Liberation Serif', serif">W</text>
<text x="474" y="251" font-size="21" text-anchor="middle" fill="#1a1a28" stroke="#1a1a28" stroke-width="0.45" font-family="'Liberation Serif', serif">C</text>
<text x="801" y="250" font-size="21" text-anchor="middle" fill="#1a1a28" stroke="#1a1a28" stroke-width="0.45" font-family="'Liberation Serif', serif">C</text>
<text x="647" y="384" font-size="21" text-anchor="middle" fill="#1a1a28" stroke="#1a1a28" stroke-width="0.45" font-family="'Liberation Serif', serif">B</text>
<text x="275" y="418" font-size="25" fill="#000" font-family="'Liberation Serif', serif"><tspan font-style="italic">Рис. 4.2.</tspan> Двойной конус Оствальда</text>
<text x="79" y="448" font-size="25" fill="#000" font-family="'Liberation Serif', serif">(источник: Медведев В.Ю., Цветоведение и колористика. Курс лекций)</text>
<text x="19" y="821" font-size="25" fill="#000" font-family="'Liberation Serif', serif"><tspan font-style="italic">Рис. 4.3.</tspan> Цветовое тело Манселла (ссылка: <tspan text-decoration="underline">libray.narod.ru</tspan> статья «Описание цвета )</text>
</svg>
</body></html>
